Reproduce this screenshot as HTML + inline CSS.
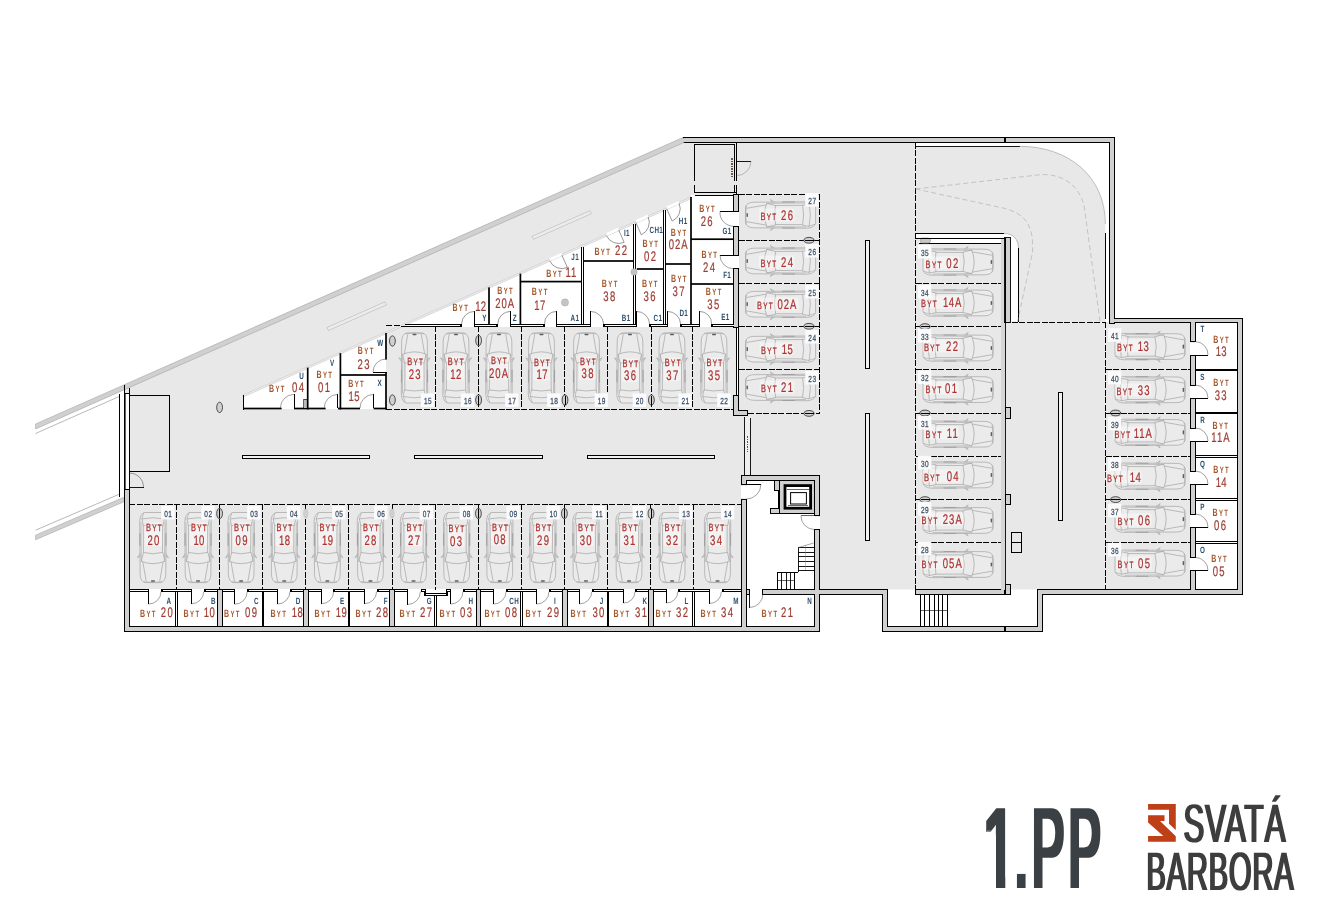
<!DOCTYPE html>
<html lang="cs"><head><meta charset="utf-8"><title>1.PP – Svatá Barbora</title>
<style>
html,body{margin:0;padding:0;background:#fff;}
body{width:1330px;height:920px;overflow:hidden;}
svg{display:block;}
text{font-family:"Liberation Sans",sans-serif;text-rendering:geometricPrecision;}
</style></head><body>
<svg width="1330" height="920" viewBox="0 0 1330 920">
<rect width="1330" height="920" fill="#ffffff"/>
<polygon points="124.4,384.68 683,137.5 1114.6,137.5 1114.6,318.4 1242.6,318.4 1242.6,589.6 819.6,589.6 819.6,631.4 124.4,631.4" fill="#e8e8e8" stroke="none" stroke-width="0.8"/>
<rect x="129.4" y="590.2" width="612" height="36.2" fill="#fff" stroke="none" stroke-width="1" shape-rendering="crispEdges"/>
<rect x="746.4" y="480.2" width="68.2" height="146.2" fill="#fff" stroke="none" stroke-width="1" shape-rendering="crispEdges"/>
<rect x="887.6" y="594" width="149.8" height="32.4" fill="#fff" stroke="none" stroke-width="1" shape-rendering="crispEdges"/>
<polygon points="243,395.24 691,197 691,195 733.4,195 733.4,327 397,327 386,331.96 386,409 243,409" fill="#fff" stroke="none" stroke-width="0.8"/>
<rect x="1195.4" y="322.4" width="42.2" height="266.6" fill="#fff" stroke="none" stroke-width="1" shape-rendering="crispEdges"/>
<path d="M915.6,142.5 H1109.6 V322 H1105.4 V224 C1105.4,176 1068,146.3 1019.6,146.3 H915.6 Z" fill="#fff" stroke="none" stroke-width="0.8"/>
<path d="M915.6,233.3 H1004.3 C1013,233.3 1018.5,239 1018.5,248.5 V321.3 H1010.9 V238 H915.6 Z" fill="#fff" stroke="none" stroke-width="0.8"/>
<polygon points="35.6,423.97 124.4,384.68 124.4,389.68 35.6,428.97" fill="#d0d0d0" stroke="#9a9a9a" stroke-width="0.5"/>
<line x1="35.6" y1="433.47" x2="119.6" y2="396.3" stroke="#888" stroke-width="0.6"/>
<polygon points="35.6,535.18 124.4,497 124.4,501.6 35.6,539.78" fill="#d0d0d0" stroke="#9a9a9a" stroke-width="0.5"/>
<line x1="35.6" y1="530.18" x2="119.6" y2="494.06" stroke="#888" stroke-width="0.6"/>
<polygon points="124.4,384.68 683,137.5 684,142.5 124.4,389.68" fill="#d0d0d0" stroke="#9a9a9a" stroke-width="0.5"/>
<polygon points="243,395.24 691,197 691,198.8 243,397.04" fill="#f2f2f2" stroke="#aaa" stroke-width="0.4"/>
<rect x="119.6" y="392.8" width="9.8" height="96.8" fill="#fff" stroke="none" stroke-width="1" shape-rendering="crispEdges"/>
<line x1="119.6" y1="393.8" x2="119.6" y2="497" stroke="#000000" stroke-width="1" shape-rendering="crispEdges"/>
<line x1="124.6" y1="384.59" x2="124.6" y2="489.6" stroke="#000000" stroke-width="1" shape-rendering="crispEdges"/>
<line x1="125.8" y1="393" x2="125.8" y2="489.6" stroke="#000000" stroke-width="0.6" shape-rendering="crispEdges"/>
<line x1="129.2" y1="387.56" x2="129.2" y2="489.6" stroke="#000000" stroke-width="1" shape-rendering="crispEdges"/>
<line x1="125" y1="393.5" x2="129.6" y2="393.5" stroke="#000000" stroke-width="1" shape-rendering="crispEdges"/>
<rect x="124" y="489" width="6" height="143" fill="#000"/>
<rect x="124" y="626" width="696" height="6" fill="#000"/>
<rect x="814" y="589" width="6" height="43" fill="#000"/>
<rect x="814" y="589" width="74" height="6" fill="#000"/>
<rect x="882" y="589" width="6" height="43" fill="#000"/>
<rect x="882" y="626" width="161" height="6" fill="#000"/>
<rect x="1037" y="589" width="6" height="43" fill="#000"/>
<rect x="1037" y="589" width="206" height="6" fill="#000"/>
<rect x="1237" y="318" width="6" height="277" fill="#000"/>
<rect x="1109" y="318" width="134" height="5" fill="#000"/>
<rect x="1109" y="137" width="6" height="187" fill="#000"/>
<rect x="683" y="137" width="432" height="6" fill="#000"/>
<rect x="217" y="589" width="6" height="38" fill="#000"/>
<rect x="303" y="589" width="6" height="38" fill="#000"/>
<rect x="389" y="589" width="6" height="38" fill="#000"/>
<rect x="476" y="589" width="5" height="38" fill="#000"/>
<rect x="562" y="589" width="6" height="38" fill="#000"/>
<rect x="648" y="589" width="6" height="38" fill="#000"/>
<rect x="741" y="475" width="79" height="6" fill="#000"/>
<rect x="741" y="475" width="6" height="10" fill="#000"/>
<rect x="741" y="499" width="6" height="133" fill="#000"/>
<rect x="814" y="475" width="6" height="41" fill="#000"/>
<rect x="814" y="529" width="6" height="103" fill="#000"/>
<rect x="762" y="589" width="58" height="6" fill="#000"/>
<rect x="746" y="589" width="4" height="6" fill="#000"/>
<rect x="778" y="480" width="37" height="34" fill="#000"/>
<rect x="774" y="480" width="6" height="11" fill="#000"/>
<rect x="770" y="508" width="10" height="6" fill="#000"/>
<rect x="733" y="194" width="6" height="18" fill="#000"/>
<rect x="733" y="226" width="6" height="30" fill="#000"/>
<rect x="733" y="268" width="6" height="60" fill="#000"/>
<rect x="1190" y="318" width="6" height="24" fill="#000"/>
<rect x="1190" y="355" width="6" height="31" fill="#000"/>
<rect x="1190" y="398" width="6" height="31" fill="#000"/>
<rect x="1190" y="441" width="6" height="31" fill="#000"/>
<rect x="1190" y="484" width="6" height="31" fill="#000"/>
<rect x="1190" y="527" width="6" height="31" fill="#000"/>
<rect x="1190" y="570" width="6" height="25" fill="#000"/>
<rect x="915" y="589" width="96" height="6" fill="#000"/>
<rect x="1005" y="407" width="6" height="12" fill="#000"/>
<rect x="1005" y="494" width="6" height="11" fill="#000"/>
<rect x="1005" y="584" width="6" height="11" fill="#000"/>
<rect x="125" y="490" width="4" height="141" fill="#d0d0d0"/>
<rect x="125" y="627" width="694" height="4" fill="#d0d0d0"/>
<rect x="815" y="590" width="4" height="41" fill="#d0d0d0"/>
<rect x="815" y="590" width="72" height="4" fill="#d0d0d0"/>
<rect x="883" y="590" width="4" height="41" fill="#d0d0d0"/>
<rect x="883" y="627" width="159" height="4" fill="#d0d0d0"/>
<rect x="1038" y="590" width="4" height="41" fill="#d0d0d0"/>
<rect x="1038" y="590" width="204" height="4" fill="#d0d0d0"/>
<rect x="1238" y="319" width="4" height="275" fill="#d0d0d0"/>
<rect x="1110" y="319" width="132" height="3" fill="#d0d0d0"/>
<rect x="1110" y="138" width="4" height="185" fill="#d0d0d0"/>
<rect x="684" y="138" width="430" height="4" fill="#d0d0d0"/>
<rect x="218" y="590" width="4" height="36" fill="#d0d0d0"/>
<rect x="304" y="590" width="4" height="36" fill="#d0d0d0"/>
<rect x="390" y="590" width="4" height="36" fill="#d0d0d0"/>
<rect x="477" y="590" width="3" height="36" fill="#d0d0d0"/>
<rect x="563" y="590" width="4" height="36" fill="#d0d0d0"/>
<rect x="649" y="590" width="4" height="36" fill="#d0d0d0"/>
<rect x="742" y="476" width="77" height="4" fill="#d0d0d0"/>
<rect x="742" y="476" width="4" height="8" fill="#d0d0d0"/>
<rect x="742" y="500" width="4" height="131" fill="#d0d0d0"/>
<rect x="815" y="476" width="4" height="39" fill="#d0d0d0"/>
<rect x="815" y="530" width="4" height="101" fill="#d0d0d0"/>
<rect x="763" y="590" width="56" height="4" fill="#d0d0d0"/>
<rect x="747" y="590" width="2" height="4" fill="#d0d0d0"/>
<rect x="779" y="481" width="35" height="32" fill="#d0d0d0"/>
<rect x="775" y="481" width="4" height="9" fill="#d0d0d0"/>
<rect x="771" y="509" width="8" height="4" fill="#d0d0d0"/>
<rect x="734" y="195" width="4" height="16" fill="#d0d0d0"/>
<rect x="734" y="227" width="4" height="28" fill="#d0d0d0"/>
<rect x="734" y="269" width="4" height="58" fill="#d0d0d0"/>
<rect x="1191" y="319" width="4" height="22" fill="#d0d0d0"/>
<rect x="1191" y="356" width="4" height="29" fill="#d0d0d0"/>
<rect x="1191" y="399" width="4" height="29" fill="#d0d0d0"/>
<rect x="1191" y="442" width="4" height="29" fill="#d0d0d0"/>
<rect x="1191" y="485" width="4" height="29" fill="#d0d0d0"/>
<rect x="1191" y="528" width="4" height="29" fill="#d0d0d0"/>
<rect x="1191" y="571" width="4" height="23" fill="#d0d0d0"/>
<rect x="916" y="590" width="94" height="4" fill="#d0d0d0"/>
<rect x="1006" y="408" width="4" height="10" fill="#d0d0d0"/>
<rect x="1006" y="495" width="4" height="9" fill="#d0d0d0"/>
<rect x="1006" y="585" width="4" height="9" fill="#d0d0d0"/>
<rect x="1004" y="137" width="2" height="6" fill="#000"/>
<polygon points="682,138.4 684.6,138 684.6,142 682,143.4" fill="#d0d0d0"/>
<rect x="1004" y="626" width="2" height="6" fill="#000"/>
<rect x="1004" y="584" width="2" height="11" fill="#000"/>
<rect x="148" y="589" width="14" height="3" fill="#fff" stroke="none" stroke-width="1" shape-rendering="crispEdges"/>
<rect x="191" y="589" width="14" height="3" fill="#fff" stroke="none" stroke-width="1" shape-rendering="crispEdges"/>
<rect x="234" y="589" width="14" height="3" fill="#fff" stroke="none" stroke-width="1" shape-rendering="crispEdges"/>
<rect x="277" y="589" width="14" height="3" fill="#fff" stroke="none" stroke-width="1" shape-rendering="crispEdges"/>
<rect x="321" y="589" width="13" height="3" fill="#fff" stroke="none" stroke-width="1" shape-rendering="crispEdges"/>
<rect x="364" y="589" width="14" height="3" fill="#fff" stroke="none" stroke-width="1" shape-rendering="crispEdges"/>
<rect x="407" y="589" width="15" height="3" fill="#fff" stroke="none" stroke-width="1" shape-rendering="crispEdges"/>
<rect x="450" y="589" width="14" height="3" fill="#fff" stroke="none" stroke-width="1" shape-rendering="crispEdges"/>
<rect x="493" y="589" width="14" height="3" fill="#fff" stroke="none" stroke-width="1" shape-rendering="crispEdges"/>
<rect x="536" y="589" width="14" height="3" fill="#fff" stroke="none" stroke-width="1" shape-rendering="crispEdges"/>
<rect x="579" y="589" width="14" height="3" fill="#fff" stroke="none" stroke-width="1" shape-rendering="crispEdges"/>
<rect x="623" y="589" width="13" height="3" fill="#fff" stroke="none" stroke-width="1" shape-rendering="crispEdges"/>
<rect x="666" y="589" width="13" height="3" fill="#fff" stroke="none" stroke-width="1" shape-rendering="crispEdges"/>
<rect x="709" y="589" width="14" height="3" fill="#fff" stroke="none" stroke-width="1" shape-rendering="crispEdges"/>
<rect x="129" y="589" width="20" height="3" fill="#000"/>
<rect x="130" y="590" width="18" height="1" fill="#fff"/>
<rect x="161" y="589" width="31" height="3" fill="#000"/>
<rect x="163" y="590" width="28" height="1" fill="#fff"/>
<rect x="204" y="589" width="14" height="3" fill="#000"/>
<rect x="206" y="590" width="11" height="1" fill="#fff"/>
<rect x="222" y="589" width="13" height="3" fill="#000"/>
<rect x="223" y="590" width="11" height="1" fill="#fff"/>
<rect x="247" y="589" width="31" height="3" fill="#000"/>
<rect x="249" y="590" width="28" height="1" fill="#fff"/>
<rect x="290" y="589" width="14" height="3" fill="#000"/>
<rect x="292" y="590" width="11" height="1" fill="#fff"/>
<rect x="308" y="589" width="14" height="3" fill="#000"/>
<rect x="309" y="590" width="12" height="1" fill="#fff"/>
<rect x="333" y="589" width="32" height="3" fill="#000"/>
<rect x="335" y="590" width="29" height="1" fill="#fff"/>
<rect x="377" y="589" width="13" height="3" fill="#000"/>
<rect x="379" y="590" width="10" height="1" fill="#fff"/>
<rect x="394" y="589" width="14" height="3" fill="#000"/>
<rect x="395" y="590" width="12" height="1" fill="#fff"/>
<rect x="421" y="589" width="30" height="3" fill="#000"/>
<rect x="423" y="590" width="27" height="1" fill="#fff"/>
<rect x="463" y="589" width="14" height="3" fill="#000"/>
<rect x="465" y="590" width="11" height="1" fill="#fff"/>
<rect x="480" y="589" width="14" height="3" fill="#000"/>
<rect x="481" y="590" width="12" height="1" fill="#fff"/>
<rect x="506" y="589" width="31" height="3" fill="#000"/>
<rect x="508" y="590" width="28" height="1" fill="#fff"/>
<rect x="549" y="589" width="14" height="3" fill="#000"/>
<rect x="551" y="590" width="11" height="1" fill="#fff"/>
<rect x="567" y="589" width="13" height="3" fill="#000"/>
<rect x="568" y="590" width="11" height="1" fill="#fff"/>
<rect x="592" y="589" width="32" height="3" fill="#000"/>
<rect x="594" y="590" width="29" height="1" fill="#fff"/>
<rect x="635" y="589" width="14" height="3" fill="#000"/>
<rect x="637" y="590" width="11" height="1" fill="#fff"/>
<rect x="653" y="589" width="14" height="3" fill="#000"/>
<rect x="654" y="590" width="12" height="1" fill="#fff"/>
<rect x="678" y="589" width="32" height="3" fill="#000"/>
<rect x="680" y="590" width="29" height="1" fill="#fff"/>
<rect x="722" y="589" width="20" height="3" fill="#000"/>
<rect x="724" y="590" width="17" height="1" fill="#fff"/>
<line x1="148.5" y1="591.6" x2="148.5" y2="604.1" stroke="#000000" stroke-width="1" shape-rendering="crispEdges"/>
<path d="M148.5,604.1 A12.5,12.5 0 0 0 161,591.6" fill="none" stroke="#444" stroke-width="0.5"/>
<line x1="191.5" y1="591.6" x2="191.5" y2="603.8" stroke="#000000" stroke-width="1" shape-rendering="crispEdges"/>
<path d="M191.5,603.8 A12.2,12.2 0 0 0 203.7,591.6" fill="none" stroke="#444" stroke-width="0.5"/>
<line x1="234.5" y1="591.6" x2="234.5" y2="604.3" stroke="#000000" stroke-width="1" shape-rendering="crispEdges"/>
<path d="M234.5,604.3 A12.7,12.7 0 0 0 247.2,591.6" fill="none" stroke="#444" stroke-width="0.5"/>
<line x1="277.5" y1="591.6" x2="277.5" y2="604" stroke="#000000" stroke-width="1" shape-rendering="crispEdges"/>
<path d="M277.5,604 A12.4,12.4 0 0 0 289.9,591.6" fill="none" stroke="#444" stroke-width="0.5"/>
<line x1="321.5" y1="591.6" x2="321.5" y2="603.7" stroke="#000000" stroke-width="1" shape-rendering="crispEdges"/>
<path d="M321.5,603.7 A12.1,12.1 0 0 0 333.6,591.6" fill="none" stroke="#444" stroke-width="0.5"/>
<line x1="364.5" y1="591.6" x2="364.5" y2="603.7" stroke="#000000" stroke-width="1" shape-rendering="crispEdges"/>
<path d="M364.5,603.7 A12.1,12.1 0 0 0 376.6,591.6" fill="none" stroke="#444" stroke-width="0.5"/>
<line x1="407.5" y1="591.6" x2="407.5" y2="604.5" stroke="#000000" stroke-width="1" shape-rendering="crispEdges"/>
<path d="M407.5,604.5 A12.9,12.9 0 0 0 420.4,591.6" fill="none" stroke="#444" stroke-width="0.5"/>
<line x1="450.5" y1="591.6" x2="450.5" y2="604.1" stroke="#000000" stroke-width="1" shape-rendering="crispEdges"/>
<path d="M450.5,604.1 A12.5,12.5 0 0 0 463,591.6" fill="none" stroke="#444" stroke-width="0.5"/>
<line x1="493.5" y1="591.6" x2="493.5" y2="604.1" stroke="#000000" stroke-width="1" shape-rendering="crispEdges"/>
<path d="M493.5,604.1 A12.5,12.5 0 0 0 506,591.6" fill="none" stroke="#444" stroke-width="0.5"/>
<line x1="536.5" y1="591.6" x2="536.5" y2="604.1" stroke="#000000" stroke-width="1" shape-rendering="crispEdges"/>
<path d="M536.5,604.1 A12.5,12.5 0 0 0 549,591.6" fill="none" stroke="#444" stroke-width="0.5"/>
<line x1="579.5" y1="591.6" x2="579.5" y2="603.9" stroke="#000000" stroke-width="1" shape-rendering="crispEdges"/>
<path d="M579.5,603.9 A12.3,12.3 0 0 0 591.8,591.6" fill="none" stroke="#444" stroke-width="0.5"/>
<line x1="623.5" y1="591.6" x2="623.5" y2="603.1" stroke="#000000" stroke-width="1" shape-rendering="crispEdges"/>
<path d="M623.5,603.1 A11.5,11.5 0 0 0 635,591.6" fill="none" stroke="#444" stroke-width="0.5"/>
<line x1="666.5" y1="591.6" x2="666.5" y2="603" stroke="#000000" stroke-width="1" shape-rendering="crispEdges"/>
<path d="M666.5,603 A11.4,11.4 0 0 0 677.9,591.6" fill="none" stroke="#444" stroke-width="0.5"/>
<line x1="709.5" y1="591.6" x2="709.5" y2="603.5" stroke="#000000" stroke-width="1" shape-rendering="crispEdges"/>
<path d="M709.5,603.5 A11.9,11.9 0 0 0 721.4,591.6" fill="none" stroke="#444" stroke-width="0.5"/>
<rect x="175" y="591" width="1" height="36" fill="#000"/>
<rect x="177" y="591" width="1" height="36" fill="#000"/>
<rect x="434" y="591" width="1" height="36" fill="#000"/>
<rect x="436" y="591" width="1" height="36" fill="#000"/>
<rect x="520" y="591" width="1" height="36" fill="#000"/>
<rect x="522" y="591" width="1" height="36" fill="#000"/>
<rect x="692" y="591" width="1" height="36" fill="#000"/>
<rect x="694" y="591" width="1" height="36" fill="#000"/>
<rect x="262" y="591" width="2" height="36" fill="#000"/>
<rect x="348" y="591" width="2" height="36" fill="#000"/>
<rect x="607" y="591" width="2" height="36" fill="#000"/>
<rect x="425" y="588.6" width="22" height="4.4" fill="#fff" stroke="none" stroke-width="1" shape-rendering="crispEdges"/>
<rect x="421" y="589" width="5" height="3" fill="#000"/>
<rect x="446" y="589" width="5" height="3" fill="#000"/>
<rect x="422" y="590" width="3" height="1" fill="#fff"/>
<rect x="447" y="590" width="3" height="1" fill="#fff"/>
<rect x="424" y="591" width="2" height="5" fill="#000"/>
<rect x="446" y="591" width="2" height="5" fill="#000"/>
<rect x="424" y="593" width="24" height="3" fill="#000"/>
<rect x="426" y="594" width="20" height="1" fill="#fff"/>
<rect x="741" y="485.5" width="6" height="12.7" fill="#fff" stroke="none" stroke-width="1" shape-rendering="crispEdges"/>
<rect x="814" y="516.8" width="6" height="12" fill="#fff" stroke="none" stroke-width="1" shape-rendering="crispEdges"/>
<rect x="783.6" y="484.2" width="28.4" height="25.4" fill="#000"/>
<rect x="786.4" y="487" width="22.8" height="19.8" fill="#fff"/>
<rect x="790.6" y="492.6" width="15.8" height="11.4" fill="#fff" stroke="#000" stroke-width="1"/>
<line x1="787" y1="489.6" x2="809" y2="489.6" stroke="#000000" stroke-width="0.6" shape-rendering="crispEdges"/>
<line x1="788" y1="505.6" x2="808" y2="505.6" stroke="#000000" stroke-width="0.6" shape-rendering="crispEdges"/>
<rect x="779" y="480" width="1" height="34" fill="#000"/>
<line x1="746.4" y1="484.5" x2="760.9" y2="484.5" stroke="#000000" stroke-width="1" shape-rendering="crispEdges"/>
<path d="M760.9,484.5 A14.5,14.5 0 0 1 746.4,499" fill="none" stroke="#444" stroke-width="0.5"/>
<line x1="814.6" y1="515.8" x2="800.9" y2="515.8" stroke="#000000" stroke-width="0.6" shape-rendering="crispEdges"/>
<path d="M800.9,515.8 A13.7,13.7 0 0 0 814.6,529.5" fill="none" stroke="#444" stroke-width="0.5"/>
<line x1="749.4" y1="594" x2="749.4" y2="607.5" stroke="#000000" stroke-width="0.9" shape-rendering="crispEdges"/>
<path d="M749.4,607.5 A13.5,13.5 0 0 0 762.9,594" fill="none" stroke="#444" stroke-width="0.5"/>
<line x1="798.2" y1="547.6" x2="813.6" y2="547.6" stroke="#000000" stroke-width="0.9" shape-rendering="crispEdges"/>
<line x1="798.2" y1="552.2" x2="813.6" y2="552.2" stroke="#000000" stroke-width="0.9" shape-rendering="crispEdges"/>
<line x1="798.2" y1="556.8" x2="813.6" y2="556.8" stroke="#000000" stroke-width="0.9" shape-rendering="crispEdges"/>
<line x1="798.2" y1="561.4" x2="813.6" y2="561.4" stroke="#000000" stroke-width="0.9" shape-rendering="crispEdges"/>
<line x1="798.2" y1="566" x2="813.6" y2="566" stroke="#000000" stroke-width="0.9" shape-rendering="crispEdges"/>
<line x1="798.2" y1="570.6" x2="813.6" y2="570.6" stroke="#000000" stroke-width="0.9" shape-rendering="crispEdges"/>
<line x1="798.2" y1="547.6" x2="798.2" y2="572" stroke="#000000" stroke-width="0.9" shape-rendering="crispEdges"/>
<line x1="798.2" y1="572" x2="795.2" y2="572" stroke="#000000" stroke-width="0.9" shape-rendering="crispEdges"/>
<line x1="798.2" y1="547.6" x2="813.6" y2="543" stroke="#555" stroke-width="0.5"/>
<line x1="805.6" y1="545" x2="805.6" y2="570" stroke="#777" stroke-width="0.4" shape-rendering="crispEdges"/>
<rect x="777.2" y="572" width="17.4" height="17.2" fill="#fff" stroke="#000000" stroke-width="1" shape-rendering="crispEdges"/>
<line x1="781.6" y1="572" x2="781.6" y2="589.2" stroke="#000000" stroke-width="0.9" shape-rendering="crispEdges"/>
<line x1="786" y1="572" x2="786" y2="589.2" stroke="#000000" stroke-width="0.9" shape-rendering="crispEdges"/>
<line x1="790.4" y1="572" x2="790.4" y2="589.2" stroke="#000000" stroke-width="0.9" shape-rendering="crispEdges"/>
<line x1="777.2" y1="580.6" x2="794.6" y2="580.6" stroke="#000000" stroke-width="0.6" shape-rendering="crispEdges"/>
<line x1="794.6" y1="572" x2="798.2" y2="572" stroke="#000000" stroke-width="0.9" shape-rendering="crispEdges"/>
<line x1="920.4" y1="594" x2="920.4" y2="626.4" stroke="#000000" stroke-width="1" shape-rendering="crispEdges"/>
<line x1="924.4" y1="594" x2="924.4" y2="626.4" stroke="#000000" stroke-width="1" shape-rendering="crispEdges"/>
<line x1="929.4" y1="594" x2="929.4" y2="626.4" stroke="#000000" stroke-width="1" shape-rendering="crispEdges"/>
<line x1="934" y1="594" x2="934" y2="626.4" stroke="#000000" stroke-width="1" shape-rendering="crispEdges"/>
<line x1="938.6" y1="594" x2="938.6" y2="626.4" stroke="#000000" stroke-width="1" shape-rendering="crispEdges"/>
<line x1="942.6" y1="594" x2="942.6" y2="626.4" stroke="#000000" stroke-width="1" shape-rendering="crispEdges"/>
<line x1="947" y1="594" x2="947" y2="626.4" stroke="#000000" stroke-width="1" shape-rendering="crispEdges"/>
<line x1="920.4" y1="610" x2="947" y2="610" stroke="#000000" stroke-width="0.6" shape-rendering="crispEdges"/>
<line x1="243" y1="395.24" x2="243" y2="409.6" stroke="#000000" stroke-width="1" shape-rendering="crispEdges"/>
<rect x="243" y="407.65" width="38.6" height="1.7" fill="#000"/>
<rect x="294" y="407.65" width="31.6" height="1.7" fill="#000"/>
<rect x="338" y="407.65" width="22" height="1.7" fill="#000"/>
<rect x="373.6" y="407.65" width="13.2" height="1.7" fill="#000"/>
<line x1="294" y1="408" x2="294" y2="394.4" stroke="#000000" stroke-width="1" shape-rendering="crispEdges"/>
<path d="M294,394.4 A13.6,13.6 0 0 0 280.4,408" fill="none" stroke="#444" stroke-width="0.5"/>
<rect x="303.8" y="399" width="3.6" height="9" fill="#bbb" stroke="#000000" stroke-width="0.6" shape-rendering="crispEdges"/>
<rect x="306.85" y="367.61" width="1.7" height="41.89" fill="#000"/>
<line x1="337.8" y1="408" x2="337.8" y2="394.4" stroke="#000000" stroke-width="1" shape-rendering="crispEdges"/>
<path d="M337.8,394.4 A13.6,13.6 0 0 0 324.2,408" fill="none" stroke="#444" stroke-width="0.5"/>
<rect x="339.55" y="353.14" width="1.7" height="56.36" fill="#000"/>
<rect x="340.4" y="374.15" width="45.6" height="1.7" fill="#000"/>
<rect x="385.15" y="332.96" width="1.7" height="26.64" fill="#000"/>
<rect x="385.15" y="372" width="1.7" height="37.5" fill="#000"/>
<line x1="373" y1="372" x2="386.8" y2="372" stroke="#000000" stroke-width="1" shape-rendering="crispEdges"/>
<path d="M373,372 A13,13 0 0 1 386,359" fill="none" stroke="#444" stroke-width="0.5"/>
<line x1="373.6" y1="408" x2="373.6" y2="394.4" stroke="#000000" stroke-width="1" shape-rendering="crispEdges"/>
<path d="M373.6,394.4 A13.6,13.6 0 0 0 360,408" fill="none" stroke="#444" stroke-width="0.5"/>
<rect x="405" y="324" width="57" height="1" fill="#000"/>
<rect x="401" y="326" width="61" height="1" fill="#000"/>
<rect x="460" y="324" width="2" height="3" fill="#000"/>
<rect x="474" y="324" width="24" height="3" fill="#000"/>
<rect x="475" y="325" width="21" height="1" fill="#fff"/>
<rect x="510" y="324" width="35" height="3" fill="#000"/>
<rect x="511" y="325" width="32" height="1" fill="#fff"/>
<rect x="556" y="324" width="35" height="3" fill="#000"/>
<rect x="557" y="325" width="33" height="1" fill="#fff"/>
<rect x="603" y="324" width="34" height="3" fill="#000"/>
<rect x="605" y="325" width="31" height="1" fill="#fff"/>
<rect x="649" y="324" width="19" height="3" fill="#000"/>
<rect x="651" y="325" width="16" height="1" fill="#fff"/>
<rect x="680" y="324" width="20" height="3" fill="#000"/>
<rect x="682" y="325" width="17" height="1" fill="#fff"/>
<rect x="711" y="324" width="23" height="3" fill="#000"/>
<rect x="713" y="325" width="21" height="1" fill="#fff"/>
<rect x="474" y="311" width="1" height="14" fill="#000"/>
<path d="M474.5,311.4 A12.9,12.9 0 0 0 461.6,324" fill="none" stroke="#555" stroke-width="0.6"/>
<rect x="510" y="311" width="1" height="14" fill="#000"/>
<path d="M510.5,311.4 A12.7,12.7 0 0 0 497.8,324" fill="none" stroke="#555" stroke-width="0.6"/>
<rect x="556" y="311" width="1" height="14" fill="#000"/>
<path d="M556.5,311.4 A11.9,11.9 0 0 0 544.6,324" fill="none" stroke="#555" stroke-width="0.6"/>
<rect x="590" y="311" width="1" height="14" fill="#000"/>
<path d="M590.5,311.4 A13.1,13.1 0 0 1 603.6,324" fill="none" stroke="#555" stroke-width="0.6"/>
<rect x="636" y="311" width="1" height="14" fill="#000"/>
<path d="M636.5,311.4 A13.1,13.1 0 0 1 649.6,324" fill="none" stroke="#555" stroke-width="0.6"/>
<rect x="667" y="311" width="1" height="14" fill="#000"/>
<path d="M667.5,311.4 A13.1,13.1 0 0 1 680.6,324" fill="none" stroke="#555" stroke-width="0.6"/>
<rect x="699" y="311" width="1" height="14" fill="#000"/>
<path d="M699.5,311.4 A12.1,12.1 0 0 1 711.6,324" fill="none" stroke="#555" stroke-width="0.6"/>
<rect x="488.15" y="287.38" width="1.7" height="37.62" fill="#000"/>
<rect x="519.55" y="273.67" width="1.7" height="51.33" fill="#000"/>
<rect x="581" y="247" width="1" height="78" fill="#000"/>
<rect x="583" y="247" width="1" height="78" fill="#000"/>
<rect x="633" y="224" width="1" height="101" fill="#000"/>
<rect x="635" y="224" width="1" height="101" fill="#000"/>
<rect x="663" y="210" width="1" height="115" fill="#000"/>
<rect x="665" y="210" width="1" height="115" fill="#000"/>
<rect x="690.15" y="197" width="1.7" height="128" fill="#000"/>
<rect x="520" y="280.75" width="61.4" height="1.7" fill="#000"/>
<rect x="584" y="260.15" width="50" height="1.7" fill="#000"/>
<rect x="636.8" y="268.15" width="26.6" height="1.7" fill="#000"/>
<rect x="665.8" y="263.15" width="25.2" height="1.7" fill="#000"/>
<rect x="691" y="238.35" width="42.4" height="1.7" fill="#000"/>
<rect x="691" y="283.15" width="42.4" height="1.7" fill="#000"/>
<rect x="695" y="195" width="39" height="1" fill="#000"/>
<circle cx="565" cy="302.4" r="3.6" fill="#c4c4c4" stroke="#aaa" stroke-width="0.5"/>
<circle cx="634" cy="272" r="3.2" fill="#c4c4c4" stroke="#aaa" stroke-width="0.5"/>
<polygon points="561.9,252.73 549.55,258.19 549.55,261.19 561.9,255.73" fill="#fff" stroke="none" stroke-width="0.8"/>
<line x1="561.9" y1="255.13" x2="567.36" y2="267.47" stroke="#555" stroke-width="0.6"/>
<path d="M567.36,267.47 A13.5,13.5 0 0 1 549.55,260.59" fill="none" stroke="#555" stroke-width="0.6"/>
<polygon points="618.7,227.59 606.35,233.06 606.35,236.06 618.7,230.59" fill="#fff" stroke="none" stroke-width="0.8"/>
<line x1="618.7" y1="229.99" x2="624.16" y2="242.34" stroke="#555" stroke-width="0.6"/>
<path d="M624.16,242.34 A13.5,13.5 0 0 1 606.35,235.46" fill="none" stroke="#555" stroke-width="0.6"/>
<polygon points="635.8,220.03 648.15,214.56 648.15,217.56 635.8,223.03" fill="#fff" stroke="none" stroke-width="0.8"/>
<line x1="635.8" y1="222.43" x2="641.26" y2="234.77" stroke="#555" stroke-width="0.6"/>
<path d="M641.26,234.77 A13.5,13.5 0 0 0 648.15,216.96" fill="none" stroke="#555" stroke-width="0.6"/>
<polygon points="666.7,206.35 679.05,200.89 679.05,203.89 666.7,209.35" fill="#fff" stroke="none" stroke-width="0.8"/>
<line x1="666.7" y1="208.75" x2="672.16" y2="221.1" stroke="#555" stroke-width="0.6"/>
<path d="M672.16,221.1 A13.5,13.5 0 0 0 679.05,203.29" fill="none" stroke="#555" stroke-width="0.6"/>
<rect x="733" y="212.3" width="6" height="13.5" fill="#fff" stroke="none" stroke-width="1" shape-rendering="crispEdges"/>
<line x1="720" y1="211.3" x2="733.4" y2="211.3" stroke="#000000" stroke-width="1" shape-rendering="crispEdges"/>
<path d="M720,211.3 A13.6,13.6 0 0 0 733.6,226.2" fill="none" stroke="#444" stroke-width="0.5"/>
<rect x="733" y="256" width="6" height="12.4" fill="#fff" stroke="none" stroke-width="1" shape-rendering="crispEdges"/>
<line x1="720" y1="255" x2="733.4" y2="255" stroke="#000000" stroke-width="1" shape-rendering="crispEdges"/>
<path d="M720,255 A13.6,13.6 0 0 0 733.6,268.8" fill="none" stroke="#444" stroke-width="0.5"/>
<rect x="736" y="328" width="1" height="67" fill="#000"/>
<rect x="737" y="328" width="1" height="67" fill="#fff"/>
<rect x="738" y="328" width="1" height="67" fill="#000"/>
<rect x="733" y="395" width="6" height="21" fill="#000"/>
<rect x="733" y="410" width="15" height="6" fill="#000"/>
<rect x="734" y="396" width="4" height="19" fill="#d0d0d0"/>
<rect x="734" y="411" width="13" height="4" fill="#d0d0d0"/>
<rect x="744" y="417" width="7" height="1" fill="#000"/>
<rect x="744.4" y="416.5" width="6.2" height="58.8" fill="#efefef" stroke="none" stroke-width="1" shape-rendering="crispEdges"/>
<line x1="744.4" y1="416.5" x2="744.4" y2="475.3" stroke="#000000" stroke-width="0.9" shape-rendering="crispEdges"/>
<line x1="750.6" y1="418" x2="750.6" y2="475.3" stroke="#000000" stroke-width="0.9" shape-rendering="crispEdges"/>
<line x1="747.6" y1="436" x2="747.6" y2="452" stroke="#333" stroke-width="0.8" stroke-dasharray="1.5 1" shape-rendering="crispEdges"/>
<rect x="694.3" y="144.3" width="40.3" height="48.5" fill="#e8e8e8" stroke="none" stroke-width="1" shape-rendering="crispEdges"/>
<rect x="694" y="144" width="41" height="1" fill="#000"/>
<rect x="694" y="192" width="43" height="1" fill="#000"/>
<rect x="694" y="144" width="1" height="37" fill="#000"/>
<rect x="694" y="185" width="1" height="8" fill="#000"/>
<rect x="734" y="144" width="1" height="37" fill="#000"/>
<rect x="734" y="185" width="1" height="8" fill="#000"/>
<rect x="736" y="143" width="1" height="38" fill="#000"/>
<rect x="736" y="185" width="1" height="10" fill="#000"/>
<line x1="736.6" y1="161.2" x2="751" y2="161.2" stroke="#000000" stroke-width="0.9" shape-rendering="crispEdges"/>
<path d="M751,161.2 A14.4,14.4 0 0 1 736.6,175.6" fill="none" stroke="#666" stroke-width="0.4"/>
<line x1="732.2" y1="158" x2="732.2" y2="178" stroke="#6b5a4a" stroke-width="1.6" stroke-dasharray="1.5 1" shape-rendering="crispEdges"/>
<rect x="129.4" y="395.6" width="40" height="75.8" fill="#e8e8e8" stroke="#000000" stroke-width="1" shape-rendering="crispEdges"/>
<line x1="129.4" y1="487" x2="143.6" y2="487" stroke="#000000" stroke-width="0.9" shape-rendering="crispEdges"/>
<path d="M143.6,487 A14,14 0 0 0 129.6,473" fill="none" stroke="#444" stroke-width="0.5"/>
<rect x="1190" y="342.6" width="6" height="12" fill="#fff" stroke="none" stroke-width="1" shape-rendering="crispEdges"/>
<line x1="1195.4" y1="355" x2="1208" y2="355" stroke="#000000" stroke-width="1" shape-rendering="crispEdges"/>
<path d="M1208,355 A13,13 0 0 0 1195.4,341.6" fill="none" stroke="#444" stroke-width="0.5"/>
<rect x="1190" y="386" width="6" height="11.6" fill="#fff" stroke="none" stroke-width="1" shape-rendering="crispEdges"/>
<line x1="1195.4" y1="398" x2="1208" y2="398" stroke="#000000" stroke-width="1" shape-rendering="crispEdges"/>
<path d="M1208,398 A13,13 0 0 0 1195.4,385" fill="none" stroke="#444" stroke-width="0.5"/>
<rect x="1190" y="429" width="6" height="11.6" fill="#fff" stroke="none" stroke-width="1" shape-rendering="crispEdges"/>
<line x1="1195.4" y1="441" x2="1208" y2="441" stroke="#000000" stroke-width="1" shape-rendering="crispEdges"/>
<path d="M1208,441 A13,13 0 0 0 1195.4,428" fill="none" stroke="#444" stroke-width="0.5"/>
<rect x="1190" y="472" width="6" height="12" fill="#fff" stroke="none" stroke-width="1" shape-rendering="crispEdges"/>
<line x1="1195.4" y1="484.4" x2="1208" y2="484.4" stroke="#000000" stroke-width="1" shape-rendering="crispEdges"/>
<path d="M1208,484.4 A13,13 0 0 0 1195.4,471" fill="none" stroke="#444" stroke-width="0.5"/>
<rect x="1190" y="515" width="6" height="12.2" fill="#fff" stroke="none" stroke-width="1" shape-rendering="crispEdges"/>
<line x1="1195.4" y1="527.6" x2="1208" y2="527.6" stroke="#000000" stroke-width="1" shape-rendering="crispEdges"/>
<path d="M1208,527.6 A13,13 0 0 0 1195.4,514" fill="none" stroke="#444" stroke-width="0.5"/>
<rect x="1190" y="558.4" width="6" height="11.6" fill="#fff" stroke="none" stroke-width="1" shape-rendering="crispEdges"/>
<line x1="1195.4" y1="570.4" x2="1208" y2="570.4" stroke="#000000" stroke-width="1" shape-rendering="crispEdges"/>
<path d="M1208,570.4 A13,13 0 0 0 1195.4,557.4" fill="none" stroke="#444" stroke-width="0.5"/>
<rect x="1195" y="369" width="43" height="2" fill="#000"/>
<rect x="1195" y="412" width="43" height="2" fill="#000"/>
<rect x="1195" y="455" width="43" height="1" fill="#000"/>
<rect x="1195" y="457" width="43" height="1" fill="#000"/>
<rect x="1195" y="498" width="43" height="1" fill="#000"/>
<rect x="1195" y="500" width="43" height="1" fill="#000"/>
<rect x="1195" y="541" width="43" height="1" fill="#000"/>
<rect x="1195" y="543" width="43" height="1" fill="#000"/>
<line x1="129.4" y1="504.4" x2="741.4" y2="504.4" stroke="#000000" stroke-width="1" stroke-dasharray="6 1.5" shape-rendering="crispEdges"/>
<line x1="176.5" y1="504.4" x2="176.5" y2="589.5" stroke="#000000" stroke-width="1" stroke-dasharray="6 1.5" shape-rendering="crispEdges"/>
<line x1="219.6" y1="504.4" x2="219.6" y2="589.5" stroke="#000000" stroke-width="1" stroke-dasharray="6 1.5" shape-rendering="crispEdges"/>
<line x1="262.7" y1="504.4" x2="262.7" y2="589.5" stroke="#000000" stroke-width="1" stroke-dasharray="6 1.5" shape-rendering="crispEdges"/>
<line x1="305.8" y1="504.4" x2="305.8" y2="589.5" stroke="#000000" stroke-width="1" stroke-dasharray="6 1.5" shape-rendering="crispEdges"/>
<line x1="348.9" y1="504.4" x2="348.9" y2="589.5" stroke="#000000" stroke-width="1" stroke-dasharray="6 1.5" shape-rendering="crispEdges"/>
<line x1="392" y1="504.4" x2="392" y2="589.5" stroke="#000000" stroke-width="1" stroke-dasharray="6 1.5" shape-rendering="crispEdges"/>
<line x1="435.1" y1="504.4" x2="435.1" y2="589.5" stroke="#000000" stroke-width="1" stroke-dasharray="6 1.5" shape-rendering="crispEdges"/>
<line x1="478.2" y1="504.4" x2="478.2" y2="589.5" stroke="#000000" stroke-width="1" stroke-dasharray="6 1.5" shape-rendering="crispEdges"/>
<line x1="521.3" y1="504.4" x2="521.3" y2="589.5" stroke="#000000" stroke-width="1" stroke-dasharray="6 1.5" shape-rendering="crispEdges"/>
<line x1="564.4" y1="504.4" x2="564.4" y2="589.5" stroke="#000000" stroke-width="1" stroke-dasharray="6 1.5" shape-rendering="crispEdges"/>
<line x1="607.5" y1="504.4" x2="607.5" y2="589.5" stroke="#000000" stroke-width="1" stroke-dasharray="6 1.5" shape-rendering="crispEdges"/>
<line x1="650.6" y1="504.4" x2="650.6" y2="589.5" stroke="#000000" stroke-width="1" stroke-dasharray="6 1.5" shape-rendering="crispEdges"/>
<line x1="693.7" y1="504.4" x2="693.7" y2="589.5" stroke="#000000" stroke-width="1" stroke-dasharray="6 1.5" shape-rendering="crispEdges"/>
<g transform="translate(152.95,547.5) rotate(180) scale(0.97,1)" fill="none" stroke="#ababab" stroke-width="0.8" stroke-linejoin="round" stroke-linecap="round"><path d="M-8.5,-35 Q-12.8,-34 -13.2,-27 L-13.6,26 Q-13.4,33.6 -8.5,35 L8.5,35 Q13.4,33.6 13.6,26 L13.2,-27 Q12.8,-34 8.5,-35 Z" fill="#ebebeb"/><path d="M-7,-33.4 L-10.4,-14.6 M7,-33.4 L10.4,-14.6"/><path d="M-12,-13.8 Q0,-18.6 12,-13.8 L9.8,-5 Q0,-7.6 -9.8,-5 Z"/><path d="M-9.8,-5 L-10,22 M9.8,-5 L10,22"/><path d="M-12,-13.8 L-12.4,25 M12,-13.8 L12.4,25" stroke-width="0.7"/><path d="M-10,22 Q0,24 10,22 L11.4,28.6 Q0,31 -11.4,28.6 Z"/><path d="M-11.4,28.6 L-9.6,34.4 M11.4,28.6 L9.6,34.4" stroke-width="0.7"/><path d="M-13.2,-8.6 L-16,-10.2 L-13.4,-6.4 M13.2,-8.6 L16,-10.2 L13.4,-6.4"/><path d="M-13.4,2 L-13.4,14 M13.4,2 L13.4,14" stroke="#a0a0a0" stroke-width="1.1"/><path d="M-9.5,-34.2 Q0,-36 9.5,-34.2" stroke-width="0.7"/><path d="M-1.4,-33.4 h2.8" stroke="#5e5e5e" stroke-width="1.5"/></g>
<g transform="translate(198.05,547.5) rotate(180) scale(0.97,1)" fill="none" stroke="#ababab" stroke-width="0.8" stroke-linejoin="round" stroke-linecap="round"><path d="M-8.5,-35 Q-12.8,-34 -13.2,-27 L-13.6,26 Q-13.4,33.6 -8.5,35 L8.5,35 Q13.4,33.6 13.6,26 L13.2,-27 Q12.8,-34 8.5,-35 Z" fill="#ebebeb"/><path d="M-7,-33.4 L-10.4,-14.6 M7,-33.4 L10.4,-14.6"/><path d="M-12,-13.8 Q0,-18.6 12,-13.8 L9.8,-5 Q0,-7.6 -9.8,-5 Z"/><path d="M-9.8,-5 L-10,22 M9.8,-5 L10,22"/><path d="M-12,-13.8 L-12.4,25 M12,-13.8 L12.4,25" stroke-width="0.7"/><path d="M-10,22 Q0,24 10,22 L11.4,28.6 Q0,31 -11.4,28.6 Z"/><path d="M-11.4,28.6 L-9.6,34.4 M11.4,28.6 L9.6,34.4" stroke-width="0.7"/><path d="M-13.2,-8.6 L-16,-10.2 L-13.4,-6.4 M13.2,-8.6 L16,-10.2 L13.4,-6.4"/><path d="M-13.4,2 L-13.4,14 M13.4,2 L13.4,14" stroke="#a0a0a0" stroke-width="1.1"/><path d="M-9.5,-34.2 Q0,-36 9.5,-34.2" stroke-width="0.7"/><path d="M-1.4,-33.4 h2.8" stroke="#5e5e5e" stroke-width="1.5"/></g>
<g transform="translate(241.15,547.5) rotate(180) scale(0.97,1)" fill="none" stroke="#ababab" stroke-width="0.8" stroke-linejoin="round" stroke-linecap="round"><path d="M-8.5,-35 Q-12.8,-34 -13.2,-27 L-13.6,26 Q-13.4,33.6 -8.5,35 L8.5,35 Q13.4,33.6 13.6,26 L13.2,-27 Q12.8,-34 8.5,-35 Z" fill="#ebebeb"/><path d="M-7,-33.4 L-10.4,-14.6 M7,-33.4 L10.4,-14.6"/><path d="M-12,-13.8 Q0,-18.6 12,-13.8 L9.8,-5 Q0,-7.6 -9.8,-5 Z"/><path d="M-9.8,-5 L-10,22 M9.8,-5 L10,22"/><path d="M-12,-13.8 L-12.4,25 M12,-13.8 L12.4,25" stroke-width="0.7"/><path d="M-10,22 Q0,24 10,22 L11.4,28.6 Q0,31 -11.4,28.6 Z"/><path d="M-11.4,28.6 L-9.6,34.4 M11.4,28.6 L9.6,34.4" stroke-width="0.7"/><path d="M-13.2,-8.6 L-16,-10.2 L-13.4,-6.4 M13.2,-8.6 L16,-10.2 L13.4,-6.4"/><path d="M-13.4,2 L-13.4,14 M13.4,2 L13.4,14" stroke="#a0a0a0" stroke-width="1.1"/><path d="M-9.5,-34.2 Q0,-36 9.5,-34.2" stroke-width="0.7"/><path d="M-1.4,-33.4 h2.8" stroke="#5e5e5e" stroke-width="1.5"/></g>
<g transform="translate(284.25,547.5) rotate(180) scale(0.97,1)" fill="none" stroke="#ababab" stroke-width="0.8" stroke-linejoin="round" stroke-linecap="round"><path d="M-8.5,-35 Q-12.8,-34 -13.2,-27 L-13.6,26 Q-13.4,33.6 -8.5,35 L8.5,35 Q13.4,33.6 13.6,26 L13.2,-27 Q12.8,-34 8.5,-35 Z" fill="#ebebeb"/><path d="M-7,-33.4 L-10.4,-14.6 M7,-33.4 L10.4,-14.6"/><path d="M-12,-13.8 Q0,-18.6 12,-13.8 L9.8,-5 Q0,-7.6 -9.8,-5 Z"/><path d="M-9.8,-5 L-10,22 M9.8,-5 L10,22"/><path d="M-12,-13.8 L-12.4,25 M12,-13.8 L12.4,25" stroke-width="0.7"/><path d="M-10,22 Q0,24 10,22 L11.4,28.6 Q0,31 -11.4,28.6 Z"/><path d="M-11.4,28.6 L-9.6,34.4 M11.4,28.6 L9.6,34.4" stroke-width="0.7"/><path d="M-13.2,-8.6 L-16,-10.2 L-13.4,-6.4 M13.2,-8.6 L16,-10.2 L13.4,-6.4"/><path d="M-13.4,2 L-13.4,14 M13.4,2 L13.4,14" stroke="#a0a0a0" stroke-width="1.1"/><path d="M-9.5,-34.2 Q0,-36 9.5,-34.2" stroke-width="0.7"/><path d="M-1.4,-33.4 h2.8" stroke="#5e5e5e" stroke-width="1.5"/></g>
<g transform="translate(327.35,547.5) rotate(180) scale(0.97,1)" fill="none" stroke="#ababab" stroke-width="0.8" stroke-linejoin="round" stroke-linecap="round"><path d="M-8.5,-35 Q-12.8,-34 -13.2,-27 L-13.6,26 Q-13.4,33.6 -8.5,35 L8.5,35 Q13.4,33.6 13.6,26 L13.2,-27 Q12.8,-34 8.5,-35 Z" fill="#ebebeb"/><path d="M-7,-33.4 L-10.4,-14.6 M7,-33.4 L10.4,-14.6"/><path d="M-12,-13.8 Q0,-18.6 12,-13.8 L9.8,-5 Q0,-7.6 -9.8,-5 Z"/><path d="M-9.8,-5 L-10,22 M9.8,-5 L10,22"/><path d="M-12,-13.8 L-12.4,25 M12,-13.8 L12.4,25" stroke-width="0.7"/><path d="M-10,22 Q0,24 10,22 L11.4,28.6 Q0,31 -11.4,28.6 Z"/><path d="M-11.4,28.6 L-9.6,34.4 M11.4,28.6 L9.6,34.4" stroke-width="0.7"/><path d="M-13.2,-8.6 L-16,-10.2 L-13.4,-6.4 M13.2,-8.6 L16,-10.2 L13.4,-6.4"/><path d="M-13.4,2 L-13.4,14 M13.4,2 L13.4,14" stroke="#a0a0a0" stroke-width="1.1"/><path d="M-9.5,-34.2 Q0,-36 9.5,-34.2" stroke-width="0.7"/><path d="M-1.4,-33.4 h2.8" stroke="#5e5e5e" stroke-width="1.5"/></g>
<g transform="translate(370.45,547.5) rotate(180) scale(0.97,1)" fill="none" stroke="#ababab" stroke-width="0.8" stroke-linejoin="round" stroke-linecap="round"><path d="M-8.5,-35 Q-12.8,-34 -13.2,-27 L-13.6,26 Q-13.4,33.6 -8.5,35 L8.5,35 Q13.4,33.6 13.6,26 L13.2,-27 Q12.8,-34 8.5,-35 Z" fill="#ebebeb"/><path d="M-7,-33.4 L-10.4,-14.6 M7,-33.4 L10.4,-14.6"/><path d="M-12,-13.8 Q0,-18.6 12,-13.8 L9.8,-5 Q0,-7.6 -9.8,-5 Z"/><path d="M-9.8,-5 L-10,22 M9.8,-5 L10,22"/><path d="M-12,-13.8 L-12.4,25 M12,-13.8 L12.4,25" stroke-width="0.7"/><path d="M-10,22 Q0,24 10,22 L11.4,28.6 Q0,31 -11.4,28.6 Z"/><path d="M-11.4,28.6 L-9.6,34.4 M11.4,28.6 L9.6,34.4" stroke-width="0.7"/><path d="M-13.2,-8.6 L-16,-10.2 L-13.4,-6.4 M13.2,-8.6 L16,-10.2 L13.4,-6.4"/><path d="M-13.4,2 L-13.4,14 M13.4,2 L13.4,14" stroke="#a0a0a0" stroke-width="1.1"/><path d="M-9.5,-34.2 Q0,-36 9.5,-34.2" stroke-width="0.7"/><path d="M-1.4,-33.4 h2.8" stroke="#5e5e5e" stroke-width="1.5"/></g>
<g transform="translate(413.55,547.5) rotate(180) scale(0.97,1)" fill="none" stroke="#ababab" stroke-width="0.8" stroke-linejoin="round" stroke-linecap="round"><path d="M-8.5,-35 Q-12.8,-34 -13.2,-27 L-13.6,26 Q-13.4,33.6 -8.5,35 L8.5,35 Q13.4,33.6 13.6,26 L13.2,-27 Q12.8,-34 8.5,-35 Z" fill="#ebebeb"/><path d="M-7,-33.4 L-10.4,-14.6 M7,-33.4 L10.4,-14.6"/><path d="M-12,-13.8 Q0,-18.6 12,-13.8 L9.8,-5 Q0,-7.6 -9.8,-5 Z"/><path d="M-9.8,-5 L-10,22 M9.8,-5 L10,22"/><path d="M-12,-13.8 L-12.4,25 M12,-13.8 L12.4,25" stroke-width="0.7"/><path d="M-10,22 Q0,24 10,22 L11.4,28.6 Q0,31 -11.4,28.6 Z"/><path d="M-11.4,28.6 L-9.6,34.4 M11.4,28.6 L9.6,34.4" stroke-width="0.7"/><path d="M-13.2,-8.6 L-16,-10.2 L-13.4,-6.4 M13.2,-8.6 L16,-10.2 L13.4,-6.4"/><path d="M-13.4,2 L-13.4,14 M13.4,2 L13.4,14" stroke="#a0a0a0" stroke-width="1.1"/><path d="M-9.5,-34.2 Q0,-36 9.5,-34.2" stroke-width="0.7"/><path d="M-1.4,-33.4 h2.8" stroke="#5e5e5e" stroke-width="1.5"/></g>
<g transform="translate(456.65,547.5) rotate(180) scale(0.97,1)" fill="none" stroke="#ababab" stroke-width="0.8" stroke-linejoin="round" stroke-linecap="round"><path d="M-8.5,-35 Q-12.8,-34 -13.2,-27 L-13.6,26 Q-13.4,33.6 -8.5,35 L8.5,35 Q13.4,33.6 13.6,26 L13.2,-27 Q12.8,-34 8.5,-35 Z" fill="#ebebeb"/><path d="M-7,-33.4 L-10.4,-14.6 M7,-33.4 L10.4,-14.6"/><path d="M-12,-13.8 Q0,-18.6 12,-13.8 L9.8,-5 Q0,-7.6 -9.8,-5 Z"/><path d="M-9.8,-5 L-10,22 M9.8,-5 L10,22"/><path d="M-12,-13.8 L-12.4,25 M12,-13.8 L12.4,25" stroke-width="0.7"/><path d="M-10,22 Q0,24 10,22 L11.4,28.6 Q0,31 -11.4,28.6 Z"/><path d="M-11.4,28.6 L-9.6,34.4 M11.4,28.6 L9.6,34.4" stroke-width="0.7"/><path d="M-13.2,-8.6 L-16,-10.2 L-13.4,-6.4 M13.2,-8.6 L16,-10.2 L13.4,-6.4"/><path d="M-13.4,2 L-13.4,14 M13.4,2 L13.4,14" stroke="#a0a0a0" stroke-width="1.1"/><path d="M-9.5,-34.2 Q0,-36 9.5,-34.2" stroke-width="0.7"/><path d="M-1.4,-33.4 h2.8" stroke="#5e5e5e" stroke-width="1.5"/></g>
<g transform="translate(499.75,547.5) rotate(180) scale(0.97,1)" fill="none" stroke="#ababab" stroke-width="0.8" stroke-linejoin="round" stroke-linecap="round"><path d="M-8.5,-35 Q-12.8,-34 -13.2,-27 L-13.6,26 Q-13.4,33.6 -8.5,35 L8.5,35 Q13.4,33.6 13.6,26 L13.2,-27 Q12.8,-34 8.5,-35 Z" fill="#ebebeb"/><path d="M-7,-33.4 L-10.4,-14.6 M7,-33.4 L10.4,-14.6"/><path d="M-12,-13.8 Q0,-18.6 12,-13.8 L9.8,-5 Q0,-7.6 -9.8,-5 Z"/><path d="M-9.8,-5 L-10,22 M9.8,-5 L10,22"/><path d="M-12,-13.8 L-12.4,25 M12,-13.8 L12.4,25" stroke-width="0.7"/><path d="M-10,22 Q0,24 10,22 L11.4,28.6 Q0,31 -11.4,28.6 Z"/><path d="M-11.4,28.6 L-9.6,34.4 M11.4,28.6 L9.6,34.4" stroke-width="0.7"/><path d="M-13.2,-8.6 L-16,-10.2 L-13.4,-6.4 M13.2,-8.6 L16,-10.2 L13.4,-6.4"/><path d="M-13.4,2 L-13.4,14 M13.4,2 L13.4,14" stroke="#a0a0a0" stroke-width="1.1"/><path d="M-9.5,-34.2 Q0,-36 9.5,-34.2" stroke-width="0.7"/><path d="M-1.4,-33.4 h2.8" stroke="#5e5e5e" stroke-width="1.5"/></g>
<g transform="translate(542.85,547.5) rotate(180) scale(0.97,1)" fill="none" stroke="#ababab" stroke-width="0.8" stroke-linejoin="round" stroke-linecap="round"><path d="M-8.5,-35 Q-12.8,-34 -13.2,-27 L-13.6,26 Q-13.4,33.6 -8.5,35 L8.5,35 Q13.4,33.6 13.6,26 L13.2,-27 Q12.8,-34 8.5,-35 Z" fill="#ebebeb"/><path d="M-7,-33.4 L-10.4,-14.6 M7,-33.4 L10.4,-14.6"/><path d="M-12,-13.8 Q0,-18.6 12,-13.8 L9.8,-5 Q0,-7.6 -9.8,-5 Z"/><path d="M-9.8,-5 L-10,22 M9.8,-5 L10,22"/><path d="M-12,-13.8 L-12.4,25 M12,-13.8 L12.4,25" stroke-width="0.7"/><path d="M-10,22 Q0,24 10,22 L11.4,28.6 Q0,31 -11.4,28.6 Z"/><path d="M-11.4,28.6 L-9.6,34.4 M11.4,28.6 L9.6,34.4" stroke-width="0.7"/><path d="M-13.2,-8.6 L-16,-10.2 L-13.4,-6.4 M13.2,-8.6 L16,-10.2 L13.4,-6.4"/><path d="M-13.4,2 L-13.4,14 M13.4,2 L13.4,14" stroke="#a0a0a0" stroke-width="1.1"/><path d="M-9.5,-34.2 Q0,-36 9.5,-34.2" stroke-width="0.7"/><path d="M-1.4,-33.4 h2.8" stroke="#5e5e5e" stroke-width="1.5"/></g>
<g transform="translate(585.95,547.5) rotate(180) scale(0.97,1)" fill="none" stroke="#ababab" stroke-width="0.8" stroke-linejoin="round" stroke-linecap="round"><path d="M-8.5,-35 Q-12.8,-34 -13.2,-27 L-13.6,26 Q-13.4,33.6 -8.5,35 L8.5,35 Q13.4,33.6 13.6,26 L13.2,-27 Q12.8,-34 8.5,-35 Z" fill="#ebebeb"/><path d="M-7,-33.4 L-10.4,-14.6 M7,-33.4 L10.4,-14.6"/><path d="M-12,-13.8 Q0,-18.6 12,-13.8 L9.8,-5 Q0,-7.6 -9.8,-5 Z"/><path d="M-9.8,-5 L-10,22 M9.8,-5 L10,22"/><path d="M-12,-13.8 L-12.4,25 M12,-13.8 L12.4,25" stroke-width="0.7"/><path d="M-10,22 Q0,24 10,22 L11.4,28.6 Q0,31 -11.4,28.6 Z"/><path d="M-11.4,28.6 L-9.6,34.4 M11.4,28.6 L9.6,34.4" stroke-width="0.7"/><path d="M-13.2,-8.6 L-16,-10.2 L-13.4,-6.4 M13.2,-8.6 L16,-10.2 L13.4,-6.4"/><path d="M-13.4,2 L-13.4,14 M13.4,2 L13.4,14" stroke="#a0a0a0" stroke-width="1.1"/><path d="M-9.5,-34.2 Q0,-36 9.5,-34.2" stroke-width="0.7"/><path d="M-1.4,-33.4 h2.8" stroke="#5e5e5e" stroke-width="1.5"/></g>
<g transform="translate(629.05,547.5) rotate(180) scale(0.97,1)" fill="none" stroke="#ababab" stroke-width="0.8" stroke-linejoin="round" stroke-linecap="round"><path d="M-8.5,-35 Q-12.8,-34 -13.2,-27 L-13.6,26 Q-13.4,33.6 -8.5,35 L8.5,35 Q13.4,33.6 13.6,26 L13.2,-27 Q12.8,-34 8.5,-35 Z" fill="#ebebeb"/><path d="M-7,-33.4 L-10.4,-14.6 M7,-33.4 L10.4,-14.6"/><path d="M-12,-13.8 Q0,-18.6 12,-13.8 L9.8,-5 Q0,-7.6 -9.8,-5 Z"/><path d="M-9.8,-5 L-10,22 M9.8,-5 L10,22"/><path d="M-12,-13.8 L-12.4,25 M12,-13.8 L12.4,25" stroke-width="0.7"/><path d="M-10,22 Q0,24 10,22 L11.4,28.6 Q0,31 -11.4,28.6 Z"/><path d="M-11.4,28.6 L-9.6,34.4 M11.4,28.6 L9.6,34.4" stroke-width="0.7"/><path d="M-13.2,-8.6 L-16,-10.2 L-13.4,-6.4 M13.2,-8.6 L16,-10.2 L13.4,-6.4"/><path d="M-13.4,2 L-13.4,14 M13.4,2 L13.4,14" stroke="#a0a0a0" stroke-width="1.1"/><path d="M-9.5,-34.2 Q0,-36 9.5,-34.2" stroke-width="0.7"/><path d="M-1.4,-33.4 h2.8" stroke="#5e5e5e" stroke-width="1.5"/></g>
<g transform="translate(672.15,547.5) rotate(180) scale(0.97,1)" fill="none" stroke="#ababab" stroke-width="0.8" stroke-linejoin="round" stroke-linecap="round"><path d="M-8.5,-35 Q-12.8,-34 -13.2,-27 L-13.6,26 Q-13.4,33.6 -8.5,35 L8.5,35 Q13.4,33.6 13.6,26 L13.2,-27 Q12.8,-34 8.5,-35 Z" fill="#ebebeb"/><path d="M-7,-33.4 L-10.4,-14.6 M7,-33.4 L10.4,-14.6"/><path d="M-12,-13.8 Q0,-18.6 12,-13.8 L9.8,-5 Q0,-7.6 -9.8,-5 Z"/><path d="M-9.8,-5 L-10,22 M9.8,-5 L10,22"/><path d="M-12,-13.8 L-12.4,25 M12,-13.8 L12.4,25" stroke-width="0.7"/><path d="M-10,22 Q0,24 10,22 L11.4,28.6 Q0,31 -11.4,28.6 Z"/><path d="M-11.4,28.6 L-9.6,34.4 M11.4,28.6 L9.6,34.4" stroke-width="0.7"/><path d="M-13.2,-8.6 L-16,-10.2 L-13.4,-6.4 M13.2,-8.6 L16,-10.2 L13.4,-6.4"/><path d="M-13.4,2 L-13.4,14 M13.4,2 L13.4,14" stroke="#a0a0a0" stroke-width="1.1"/><path d="M-9.5,-34.2 Q0,-36 9.5,-34.2" stroke-width="0.7"/><path d="M-1.4,-33.4 h2.8" stroke="#5e5e5e" stroke-width="1.5"/></g>
<g transform="translate(717.55,547.5) rotate(180) scale(0.97,1)" fill="none" stroke="#ababab" stroke-width="0.8" stroke-linejoin="round" stroke-linecap="round"><path d="M-8.5,-35 Q-12.8,-34 -13.2,-27 L-13.6,26 Q-13.4,33.6 -8.5,35 L8.5,35 Q13.4,33.6 13.6,26 L13.2,-27 Q12.8,-34 8.5,-35 Z" fill="#ebebeb"/><path d="M-7,-33.4 L-10.4,-14.6 M7,-33.4 L10.4,-14.6"/><path d="M-12,-13.8 Q0,-18.6 12,-13.8 L9.8,-5 Q0,-7.6 -9.8,-5 Z"/><path d="M-9.8,-5 L-10,22 M9.8,-5 L10,22"/><path d="M-12,-13.8 L-12.4,25 M12,-13.8 L12.4,25" stroke-width="0.7"/><path d="M-10,22 Q0,24 10,22 L11.4,28.6 Q0,31 -11.4,28.6 Z"/><path d="M-11.4,28.6 L-9.6,34.4 M11.4,28.6 L9.6,34.4" stroke-width="0.7"/><path d="M-13.2,-8.6 L-16,-10.2 L-13.4,-6.4 M13.2,-8.6 L16,-10.2 L13.4,-6.4"/><path d="M-13.4,2 L-13.4,14 M13.4,2 L13.4,14" stroke="#a0a0a0" stroke-width="1.1"/><path d="M-9.5,-34.2 Q0,-36 9.5,-34.2" stroke-width="0.7"/><path d="M-1.4,-33.4 h2.8" stroke="#5e5e5e" stroke-width="1.5"/></g>
<ellipse cx="219.6" cy="513.5" rx="2.9" ry="5.2" fill="#d0d0d0" stroke="#111" stroke-width="0.7"/>
<line x1="219.6" y1="509" x2="219.6" y2="518" stroke="#000000" stroke-width="1" shape-rendering="crispEdges"/>
<ellipse cx="478.4" cy="513.5" rx="2.9" ry="5.2" fill="#d0d0d0" stroke="#111" stroke-width="0.7"/>
<line x1="478.4" y1="509" x2="478.4" y2="518" stroke="#000000" stroke-width="1" shape-rendering="crispEdges"/>
<ellipse cx="564.4" cy="513.5" rx="2.9" ry="5.2" fill="#d0d0d0" stroke="#111" stroke-width="0.7"/>
<line x1="564.4" y1="509" x2="564.4" y2="518" stroke="#000000" stroke-width="1" shape-rendering="crispEdges"/>
<ellipse cx="651" cy="513.5" rx="2.9" ry="5.2" fill="#d0d0d0" stroke="#111" stroke-width="0.7"/>
<line x1="651" y1="509" x2="651" y2="518" stroke="#000000" stroke-width="1" shape-rendering="crispEdges"/>
<ellipse cx="305.8" cy="513.5" rx="2.2" ry="4.6" fill="#cfcfcf" stroke="#bdbdbd" stroke-width="0.5"/>
<ellipse cx="392" cy="513.5" rx="2.2" ry="4.6" fill="#cfcfcf" stroke="#bdbdbd" stroke-width="0.5"/>
<line x1="386" y1="409" x2="734" y2="409" stroke="#000000" stroke-width="1" stroke-dasharray="6 1.5" shape-rendering="crispEdges"/>
<line x1="386" y1="325.2" x2="401" y2="325.2" stroke="#000000" stroke-width="1" stroke-dasharray="6 1.5" shape-rendering="crispEdges"/>
<line x1="435.6" y1="326" x2="435.6" y2="409" stroke="#000000" stroke-width="1" stroke-dasharray="6 1.5" shape-rendering="crispEdges"/>
<line x1="478.6" y1="326" x2="478.6" y2="409" stroke="#000000" stroke-width="1" stroke-dasharray="6 1.5" shape-rendering="crispEdges"/>
<line x1="521.6" y1="326" x2="521.6" y2="409" stroke="#000000" stroke-width="1" stroke-dasharray="6 1.5" shape-rendering="crispEdges"/>
<line x1="564.4" y1="326" x2="564.4" y2="409" stroke="#000000" stroke-width="1" stroke-dasharray="6 1.5" shape-rendering="crispEdges"/>
<line x1="607.6" y1="326" x2="607.6" y2="409" stroke="#000000" stroke-width="1" stroke-dasharray="6 1.5" shape-rendering="crispEdges"/>
<line x1="651.2" y1="326" x2="651.2" y2="409" stroke="#000000" stroke-width="1" stroke-dasharray="6 1.5" shape-rendering="crispEdges"/>
<line x1="692.6" y1="326" x2="692.6" y2="409" stroke="#000000" stroke-width="1" stroke-dasharray="6 1.5" shape-rendering="crispEdges"/>
<g transform="translate(414.5,368) rotate(0) scale(0.97,1)" fill="none" stroke="#ababab" stroke-width="0.8" stroke-linejoin="round" stroke-linecap="round"><path d="M-8.5,-35 Q-12.8,-34 -13.2,-27 L-13.6,26 Q-13.4,33.6 -8.5,35 L8.5,35 Q13.4,33.6 13.6,26 L13.2,-27 Q12.8,-34 8.5,-35 Z" fill="#ebebeb"/><path d="M-7,-33.4 L-10.4,-14.6 M7,-33.4 L10.4,-14.6"/><path d="M-12,-13.8 Q0,-18.6 12,-13.8 L9.8,-5 Q0,-7.6 -9.8,-5 Z"/><path d="M-9.8,-5 L-10,22 M9.8,-5 L10,22"/><path d="M-12,-13.8 L-12.4,25 M12,-13.8 L12.4,25" stroke-width="0.7"/><path d="M-10,22 Q0,24 10,22 L11.4,28.6 Q0,31 -11.4,28.6 Z"/><path d="M-11.4,28.6 L-9.6,34.4 M11.4,28.6 L9.6,34.4" stroke-width="0.7"/><path d="M-13.2,-8.6 L-16,-10.2 L-13.4,-6.4 M13.2,-8.6 L16,-10.2 L13.4,-6.4"/><path d="M-13.4,2 L-13.4,14 M13.4,2 L13.4,14" stroke="#a0a0a0" stroke-width="1.1"/><path d="M-9.5,-34.2 Q0,-36 9.5,-34.2" stroke-width="0.7"/><path d="M-1.4,-33.4 h2.8" stroke="#5e5e5e" stroke-width="1.5"/></g>
<g transform="translate(456,368) rotate(0) scale(0.97,1)" fill="none" stroke="#ababab" stroke-width="0.8" stroke-linejoin="round" stroke-linecap="round"><path d="M-8.5,-35 Q-12.8,-34 -13.2,-27 L-13.6,26 Q-13.4,33.6 -8.5,35 L8.5,35 Q13.4,33.6 13.6,26 L13.2,-27 Q12.8,-34 8.5,-35 Z" fill="#ebebeb"/><path d="M-7,-33.4 L-10.4,-14.6 M7,-33.4 L10.4,-14.6"/><path d="M-12,-13.8 Q0,-18.6 12,-13.8 L9.8,-5 Q0,-7.6 -9.8,-5 Z"/><path d="M-9.8,-5 L-10,22 M9.8,-5 L10,22"/><path d="M-12,-13.8 L-12.4,25 M12,-13.8 L12.4,25" stroke-width="0.7"/><path d="M-10,22 Q0,24 10,22 L11.4,28.6 Q0,31 -11.4,28.6 Z"/><path d="M-11.4,28.6 L-9.6,34.4 M11.4,28.6 L9.6,34.4" stroke-width="0.7"/><path d="M-13.2,-8.6 L-16,-10.2 L-13.4,-6.4 M13.2,-8.6 L16,-10.2 L13.4,-6.4"/><path d="M-13.4,2 L-13.4,14 M13.4,2 L13.4,14" stroke="#a0a0a0" stroke-width="1.1"/><path d="M-9.5,-34.2 Q0,-36 9.5,-34.2" stroke-width="0.7"/><path d="M-1.4,-33.4 h2.8" stroke="#5e5e5e" stroke-width="1.5"/></g>
<g transform="translate(499,368) rotate(0) scale(0.97,1)" fill="none" stroke="#ababab" stroke-width="0.8" stroke-linejoin="round" stroke-linecap="round"><path d="M-8.5,-35 Q-12.8,-34 -13.2,-27 L-13.6,26 Q-13.4,33.6 -8.5,35 L8.5,35 Q13.4,33.6 13.6,26 L13.2,-27 Q12.8,-34 8.5,-35 Z" fill="#ebebeb"/><path d="M-7,-33.4 L-10.4,-14.6 M7,-33.4 L10.4,-14.6"/><path d="M-12,-13.8 Q0,-18.6 12,-13.8 L9.8,-5 Q0,-7.6 -9.8,-5 Z"/><path d="M-9.8,-5 L-10,22 M9.8,-5 L10,22"/><path d="M-12,-13.8 L-12.4,25 M12,-13.8 L12.4,25" stroke-width="0.7"/><path d="M-10,22 Q0,24 10,22 L11.4,28.6 Q0,31 -11.4,28.6 Z"/><path d="M-11.4,28.6 L-9.6,34.4 M11.4,28.6 L9.6,34.4" stroke-width="0.7"/><path d="M-13.2,-8.6 L-16,-10.2 L-13.4,-6.4 M13.2,-8.6 L16,-10.2 L13.4,-6.4"/><path d="M-13.4,2 L-13.4,14 M13.4,2 L13.4,14" stroke="#a0a0a0" stroke-width="1.1"/><path d="M-9.5,-34.2 Q0,-36 9.5,-34.2" stroke-width="0.7"/><path d="M-1.4,-33.4 h2.8" stroke="#5e5e5e" stroke-width="1.5"/></g>
<g transform="translate(541.5,368) rotate(0) scale(0.97,1)" fill="none" stroke="#ababab" stroke-width="0.8" stroke-linejoin="round" stroke-linecap="round"><path d="M-8.5,-35 Q-12.8,-34 -13.2,-27 L-13.6,26 Q-13.4,33.6 -8.5,35 L8.5,35 Q13.4,33.6 13.6,26 L13.2,-27 Q12.8,-34 8.5,-35 Z" fill="#ebebeb"/><path d="M-7,-33.4 L-10.4,-14.6 M7,-33.4 L10.4,-14.6"/><path d="M-12,-13.8 Q0,-18.6 12,-13.8 L9.8,-5 Q0,-7.6 -9.8,-5 Z"/><path d="M-9.8,-5 L-10,22 M9.8,-5 L10,22"/><path d="M-12,-13.8 L-12.4,25 M12,-13.8 L12.4,25" stroke-width="0.7"/><path d="M-10,22 Q0,24 10,22 L11.4,28.6 Q0,31 -11.4,28.6 Z"/><path d="M-11.4,28.6 L-9.6,34.4 M11.4,28.6 L9.6,34.4" stroke-width="0.7"/><path d="M-13.2,-8.6 L-16,-10.2 L-13.4,-6.4 M13.2,-8.6 L16,-10.2 L13.4,-6.4"/><path d="M-13.4,2 L-13.4,14 M13.4,2 L13.4,14" stroke="#a0a0a0" stroke-width="1.1"/><path d="M-9.5,-34.2 Q0,-36 9.5,-34.2" stroke-width="0.7"/><path d="M-1.4,-33.4 h2.8" stroke="#5e5e5e" stroke-width="1.5"/></g>
<g transform="translate(586.5,368) rotate(0) scale(0.97,1)" fill="none" stroke="#ababab" stroke-width="0.8" stroke-linejoin="round" stroke-linecap="round"><path d="M-8.5,-35 Q-12.8,-34 -13.2,-27 L-13.6,26 Q-13.4,33.6 -8.5,35 L8.5,35 Q13.4,33.6 13.6,26 L13.2,-27 Q12.8,-34 8.5,-35 Z" fill="#ebebeb"/><path d="M-7,-33.4 L-10.4,-14.6 M7,-33.4 L10.4,-14.6"/><path d="M-12,-13.8 Q0,-18.6 12,-13.8 L9.8,-5 Q0,-7.6 -9.8,-5 Z"/><path d="M-9.8,-5 L-10,22 M9.8,-5 L10,22"/><path d="M-12,-13.8 L-12.4,25 M12,-13.8 L12.4,25" stroke-width="0.7"/><path d="M-10,22 Q0,24 10,22 L11.4,28.6 Q0,31 -11.4,28.6 Z"/><path d="M-11.4,28.6 L-9.6,34.4 M11.4,28.6 L9.6,34.4" stroke-width="0.7"/><path d="M-13.2,-8.6 L-16,-10.2 L-13.4,-6.4 M13.2,-8.6 L16,-10.2 L13.4,-6.4"/><path d="M-13.4,2 L-13.4,14 M13.4,2 L13.4,14" stroke="#a0a0a0" stroke-width="1.1"/><path d="M-9.5,-34.2 Q0,-36 9.5,-34.2" stroke-width="0.7"/><path d="M-1.4,-33.4 h2.8" stroke="#5e5e5e" stroke-width="1.5"/></g>
<g transform="translate(630,368) rotate(0) scale(0.97,1)" fill="none" stroke="#ababab" stroke-width="0.8" stroke-linejoin="round" stroke-linecap="round"><path d="M-8.5,-35 Q-12.8,-34 -13.2,-27 L-13.6,26 Q-13.4,33.6 -8.5,35 L8.5,35 Q13.4,33.6 13.6,26 L13.2,-27 Q12.8,-34 8.5,-35 Z" fill="#ebebeb"/><path d="M-7,-33.4 L-10.4,-14.6 M7,-33.4 L10.4,-14.6"/><path d="M-12,-13.8 Q0,-18.6 12,-13.8 L9.8,-5 Q0,-7.6 -9.8,-5 Z"/><path d="M-9.8,-5 L-10,22 M9.8,-5 L10,22"/><path d="M-12,-13.8 L-12.4,25 M12,-13.8 L12.4,25" stroke-width="0.7"/><path d="M-10,22 Q0,24 10,22 L11.4,28.6 Q0,31 -11.4,28.6 Z"/><path d="M-11.4,28.6 L-9.6,34.4 M11.4,28.6 L9.6,34.4" stroke-width="0.7"/><path d="M-13.2,-8.6 L-16,-10.2 L-13.4,-6.4 M13.2,-8.6 L16,-10.2 L13.4,-6.4"/><path d="M-13.4,2 L-13.4,14 M13.4,2 L13.4,14" stroke="#a0a0a0" stroke-width="1.1"/><path d="M-9.5,-34.2 Q0,-36 9.5,-34.2" stroke-width="0.7"/><path d="M-1.4,-33.4 h2.8" stroke="#5e5e5e" stroke-width="1.5"/></g>
<g transform="translate(672,368) rotate(0) scale(0.97,1)" fill="none" stroke="#ababab" stroke-width="0.8" stroke-linejoin="round" stroke-linecap="round"><path d="M-8.5,-35 Q-12.8,-34 -13.2,-27 L-13.6,26 Q-13.4,33.6 -8.5,35 L8.5,35 Q13.4,33.6 13.6,26 L13.2,-27 Q12.8,-34 8.5,-35 Z" fill="#ebebeb"/><path d="M-7,-33.4 L-10.4,-14.6 M7,-33.4 L10.4,-14.6"/><path d="M-12,-13.8 Q0,-18.6 12,-13.8 L9.8,-5 Q0,-7.6 -9.8,-5 Z"/><path d="M-9.8,-5 L-10,22 M9.8,-5 L10,22"/><path d="M-12,-13.8 L-12.4,25 M12,-13.8 L12.4,25" stroke-width="0.7"/><path d="M-10,22 Q0,24 10,22 L11.4,28.6 Q0,31 -11.4,28.6 Z"/><path d="M-11.4,28.6 L-9.6,34.4 M11.4,28.6 L9.6,34.4" stroke-width="0.7"/><path d="M-13.2,-8.6 L-16,-10.2 L-13.4,-6.4 M13.2,-8.6 L16,-10.2 L13.4,-6.4"/><path d="M-13.4,2 L-13.4,14 M13.4,2 L13.4,14" stroke="#a0a0a0" stroke-width="1.1"/><path d="M-9.5,-34.2 Q0,-36 9.5,-34.2" stroke-width="0.7"/><path d="M-1.4,-33.4 h2.8" stroke="#5e5e5e" stroke-width="1.5"/></g>
<g transform="translate(714,368) rotate(0) scale(0.97,1)" fill="none" stroke="#ababab" stroke-width="0.8" stroke-linejoin="round" stroke-linecap="round"><path d="M-8.5,-35 Q-12.8,-34 -13.2,-27 L-13.6,26 Q-13.4,33.6 -8.5,35 L8.5,35 Q13.4,33.6 13.6,26 L13.2,-27 Q12.8,-34 8.5,-35 Z" fill="#ebebeb"/><path d="M-7,-33.4 L-10.4,-14.6 M7,-33.4 L10.4,-14.6"/><path d="M-12,-13.8 Q0,-18.6 12,-13.8 L9.8,-5 Q0,-7.6 -9.8,-5 Z"/><path d="M-9.8,-5 L-10,22 M9.8,-5 L10,22"/><path d="M-12,-13.8 L-12.4,25 M12,-13.8 L12.4,25" stroke-width="0.7"/><path d="M-10,22 Q0,24 10,22 L11.4,28.6 Q0,31 -11.4,28.6 Z"/><path d="M-11.4,28.6 L-9.6,34.4 M11.4,28.6 L9.6,34.4" stroke-width="0.7"/><path d="M-13.2,-8.6 L-16,-10.2 L-13.4,-6.4 M13.2,-8.6 L16,-10.2 L13.4,-6.4"/><path d="M-13.4,2 L-13.4,14 M13.4,2 L13.4,14" stroke="#a0a0a0" stroke-width="1.1"/><path d="M-9.5,-34.2 Q0,-36 9.5,-34.2" stroke-width="0.7"/><path d="M-1.4,-33.4 h2.8" stroke="#5e5e5e" stroke-width="1.5"/></g>
<ellipse cx="392.4" cy="341" rx="2.9" ry="5.2" fill="#d0d0d0" stroke="#111" stroke-width="0.7"/>
<ellipse cx="392.4" cy="400" rx="2.9" ry="5.2" fill="#d0d0d0" stroke="#111" stroke-width="0.7"/>
<ellipse cx="478.6" cy="340.5" rx="2.9" ry="5.2" fill="#d0d0d0" stroke="#111" stroke-width="0.7"/>
<line x1="478.6" y1="336" x2="478.6" y2="345" stroke="#000000" stroke-width="1" shape-rendering="crispEdges"/>
<ellipse cx="478.6" cy="400" rx="2.9" ry="5.2" fill="#d0d0d0" stroke="#111" stroke-width="0.7"/>
<line x1="478.6" y1="395.5" x2="478.6" y2="404.5" stroke="#000000" stroke-width="1" shape-rendering="crispEdges"/>
<ellipse cx="565" cy="400" rx="2.9" ry="5.2" fill="#d0d0d0" stroke="#111" stroke-width="0.7"/>
<line x1="565" y1="395.5" x2="565" y2="404.5" stroke="#000000" stroke-width="1" shape-rendering="crispEdges"/>
<ellipse cx="651.4" cy="400" rx="2.9" ry="5.2" fill="#d0d0d0" stroke="#111" stroke-width="0.7"/>
<line x1="651.4" y1="395.5" x2="651.4" y2="404.5" stroke="#000000" stroke-width="1" shape-rendering="crispEdges"/>
<ellipse cx="219.6" cy="407.4" rx="2.9" ry="5.2" fill="#d0d0d0" stroke="#111" stroke-width="0.7"/>
<line x1="738.6" y1="194.5" x2="819.6" y2="194.5" stroke="#000000" stroke-width="1" stroke-dasharray="6 1.5" shape-rendering="crispEdges"/>
<line x1="738.6" y1="240.4" x2="819.6" y2="240.4" stroke="#000000" stroke-width="1" stroke-dasharray="6 1.5" shape-rendering="crispEdges"/>
<line x1="738.6" y1="283.5" x2="819.6" y2="283.5" stroke="#000000" stroke-width="1" stroke-dasharray="6 1.5" shape-rendering="crispEdges"/>
<line x1="738.6" y1="326.4" x2="819.6" y2="326.4" stroke="#000000" stroke-width="1" stroke-dasharray="6 1.5" shape-rendering="crispEdges"/>
<line x1="738.6" y1="369.3" x2="819.6" y2="369.3" stroke="#000000" stroke-width="1" stroke-dasharray="6 1.5" shape-rendering="crispEdges"/>
<line x1="748" y1="413.5" x2="819.6" y2="413.5" stroke="#000000" stroke-width="1" stroke-dasharray="6 1.5" shape-rendering="crispEdges"/>
<line x1="819.6" y1="194.4" x2="819.6" y2="413.8" stroke="#000000" stroke-width="1" stroke-dasharray="6 1.5" shape-rendering="crispEdges"/>
<g transform="translate(780.6,215) rotate(-90) scale(0.97,1)" fill="none" stroke="#ababab" stroke-width="0.8" stroke-linejoin="round" stroke-linecap="round"><path d="M-8.5,-35 Q-12.8,-34 -13.2,-27 L-13.6,26 Q-13.4,33.6 -8.5,35 L8.5,35 Q13.4,33.6 13.6,26 L13.2,-27 Q12.8,-34 8.5,-35 Z" fill="#ebebeb"/><path d="M-7,-33.4 L-10.4,-14.6 M7,-33.4 L10.4,-14.6"/><path d="M-12,-13.8 Q0,-18.6 12,-13.8 L9.8,-5 Q0,-7.6 -9.8,-5 Z"/><path d="M-9.8,-5 L-10,22 M9.8,-5 L10,22"/><path d="M-12,-13.8 L-12.4,25 M12,-13.8 L12.4,25" stroke-width="0.7"/><path d="M-10,22 Q0,24 10,22 L11.4,28.6 Q0,31 -11.4,28.6 Z"/><path d="M-11.4,28.6 L-9.6,34.4 M11.4,28.6 L9.6,34.4" stroke-width="0.7"/><path d="M-13.2,-8.6 L-16,-10.2 L-13.4,-6.4 M13.2,-8.6 L16,-10.2 L13.4,-6.4"/><path d="M-13.4,2 L-13.4,14 M13.4,2 L13.4,14" stroke="#a0a0a0" stroke-width="1.1"/><path d="M-9.5,-34.2 Q0,-36 9.5,-34.2" stroke-width="0.7"/><path d="M-1.4,-33.4 h2.8" stroke="#5e5e5e" stroke-width="1.5"/></g>
<g transform="translate(780.6,261) rotate(-90) scale(0.97,1)" fill="none" stroke="#ababab" stroke-width="0.8" stroke-linejoin="round" stroke-linecap="round"><path d="M-8.5,-35 Q-12.8,-34 -13.2,-27 L-13.6,26 Q-13.4,33.6 -8.5,35 L8.5,35 Q13.4,33.6 13.6,26 L13.2,-27 Q12.8,-34 8.5,-35 Z" fill="#ebebeb"/><path d="M-7,-33.4 L-10.4,-14.6 M7,-33.4 L10.4,-14.6"/><path d="M-12,-13.8 Q0,-18.6 12,-13.8 L9.8,-5 Q0,-7.6 -9.8,-5 Z"/><path d="M-9.8,-5 L-10,22 M9.8,-5 L10,22"/><path d="M-12,-13.8 L-12.4,25 M12,-13.8 L12.4,25" stroke-width="0.7"/><path d="M-10,22 Q0,24 10,22 L11.4,28.6 Q0,31 -11.4,28.6 Z"/><path d="M-11.4,28.6 L-9.6,34.4 M11.4,28.6 L9.6,34.4" stroke-width="0.7"/><path d="M-13.2,-8.6 L-16,-10.2 L-13.4,-6.4 M13.2,-8.6 L16,-10.2 L13.4,-6.4"/><path d="M-13.4,2 L-13.4,14 M13.4,2 L13.4,14" stroke="#a0a0a0" stroke-width="1.1"/><path d="M-9.5,-34.2 Q0,-36 9.5,-34.2" stroke-width="0.7"/><path d="M-1.4,-33.4 h2.8" stroke="#5e5e5e" stroke-width="1.5"/></g>
<g transform="translate(780.6,304.2) rotate(-90) scale(0.97,1)" fill="none" stroke="#ababab" stroke-width="0.8" stroke-linejoin="round" stroke-linecap="round"><path d="M-8.5,-35 Q-12.8,-34 -13.2,-27 L-13.6,26 Q-13.4,33.6 -8.5,35 L8.5,35 Q13.4,33.6 13.6,26 L13.2,-27 Q12.8,-34 8.5,-35 Z" fill="#ebebeb"/><path d="M-7,-33.4 L-10.4,-14.6 M7,-33.4 L10.4,-14.6"/><path d="M-12,-13.8 Q0,-18.6 12,-13.8 L9.8,-5 Q0,-7.6 -9.8,-5 Z"/><path d="M-9.8,-5 L-10,22 M9.8,-5 L10,22"/><path d="M-12,-13.8 L-12.4,25 M12,-13.8 L12.4,25" stroke-width="0.7"/><path d="M-10,22 Q0,24 10,22 L11.4,28.6 Q0,31 -11.4,28.6 Z"/><path d="M-11.4,28.6 L-9.6,34.4 M11.4,28.6 L9.6,34.4" stroke-width="0.7"/><path d="M-13.2,-8.6 L-16,-10.2 L-13.4,-6.4 M13.2,-8.6 L16,-10.2 L13.4,-6.4"/><path d="M-13.4,2 L-13.4,14 M13.4,2 L13.4,14" stroke="#a0a0a0" stroke-width="1.1"/><path d="M-9.5,-34.2 Q0,-36 9.5,-34.2" stroke-width="0.7"/><path d="M-1.4,-33.4 h2.8" stroke="#5e5e5e" stroke-width="1.5"/></g>
<g transform="translate(780.6,349.2) rotate(-90) scale(0.97,1)" fill="none" stroke="#ababab" stroke-width="0.8" stroke-linejoin="round" stroke-linecap="round"><path d="M-8.5,-35 Q-12.8,-34 -13.2,-27 L-13.6,26 Q-13.4,33.6 -8.5,35 L8.5,35 Q13.4,33.6 13.6,26 L13.2,-27 Q12.8,-34 8.5,-35 Z" fill="#ebebeb"/><path d="M-7,-33.4 L-10.4,-14.6 M7,-33.4 L10.4,-14.6"/><path d="M-12,-13.8 Q0,-18.6 12,-13.8 L9.8,-5 Q0,-7.6 -9.8,-5 Z"/><path d="M-9.8,-5 L-10,22 M9.8,-5 L10,22"/><path d="M-12,-13.8 L-12.4,25 M12,-13.8 L12.4,25" stroke-width="0.7"/><path d="M-10,22 Q0,24 10,22 L11.4,28.6 Q0,31 -11.4,28.6 Z"/><path d="M-11.4,28.6 L-9.6,34.4 M11.4,28.6 L9.6,34.4" stroke-width="0.7"/><path d="M-13.2,-8.6 L-16,-10.2 L-13.4,-6.4 M13.2,-8.6 L16,-10.2 L13.4,-6.4"/><path d="M-13.4,2 L-13.4,14 M13.4,2 L13.4,14" stroke="#a0a0a0" stroke-width="1.1"/><path d="M-9.5,-34.2 Q0,-36 9.5,-34.2" stroke-width="0.7"/><path d="M-1.4,-33.4 h2.8" stroke="#5e5e5e" stroke-width="1.5"/></g>
<g transform="translate(780.6,387.5) rotate(-90) scale(0.97,1)" fill="none" stroke="#ababab" stroke-width="0.8" stroke-linejoin="round" stroke-linecap="round"><path d="M-8.5,-35 Q-12.8,-34 -13.2,-27 L-13.6,26 Q-13.4,33.6 -8.5,35 L8.5,35 Q13.4,33.6 13.6,26 L13.2,-27 Q12.8,-34 8.5,-35 Z" fill="#ebebeb"/><path d="M-7,-33.4 L-10.4,-14.6 M7,-33.4 L10.4,-14.6"/><path d="M-12,-13.8 Q0,-18.6 12,-13.8 L9.8,-5 Q0,-7.6 -9.8,-5 Z"/><path d="M-9.8,-5 L-10,22 M9.8,-5 L10,22"/><path d="M-12,-13.8 L-12.4,25 M12,-13.8 L12.4,25" stroke-width="0.7"/><path d="M-10,22 Q0,24 10,22 L11.4,28.6 Q0,31 -11.4,28.6 Z"/><path d="M-11.4,28.6 L-9.6,34.4 M11.4,28.6 L9.6,34.4" stroke-width="0.7"/><path d="M-13.2,-8.6 L-16,-10.2 L-13.4,-6.4 M13.2,-8.6 L16,-10.2 L13.4,-6.4"/><path d="M-13.4,2 L-13.4,14 M13.4,2 L13.4,14" stroke="#a0a0a0" stroke-width="1.1"/><path d="M-9.5,-34.2 Q0,-36 9.5,-34.2" stroke-width="0.7"/><path d="M-1.4,-33.4 h2.8" stroke="#5e5e5e" stroke-width="1.5"/></g>
<ellipse cx="809" cy="240.3" rx="5.2" ry="2.9" fill="#d0d0d0" stroke="#111" stroke-width="0.7"/>
<line x1="804.5" y1="240.3" x2="813.5" y2="240.3" stroke="#000000" stroke-width="1" shape-rendering="crispEdges"/>
<ellipse cx="809" cy="326.3" rx="5.2" ry="2.9" fill="#d0d0d0" stroke="#111" stroke-width="0.7"/>
<line x1="804.5" y1="326.3" x2="813.5" y2="326.3" stroke="#000000" stroke-width="1" shape-rendering="crispEdges"/>
<ellipse cx="809" cy="413.4" rx="5.2" ry="2.9" fill="#d0d0d0" stroke="#111" stroke-width="0.7"/>
<line x1="804.5" y1="413.4" x2="813.5" y2="413.4" stroke="#000000" stroke-width="1" shape-rendering="crispEdges"/>
<line x1="915.6" y1="142.5" x2="915.6" y2="589.6" stroke="#000000" stroke-width="1" stroke-dasharray="6 1.5" shape-rendering="crispEdges"/>
<line x1="915.6" y1="283.6" x2="1001" y2="283.6" stroke="#000000" stroke-width="1" stroke-dasharray="6 1.5" shape-rendering="crispEdges"/>
<line x1="915.6" y1="326.6" x2="1001" y2="326.6" stroke="#000000" stroke-width="1" stroke-dasharray="6 1.5" shape-rendering="crispEdges"/>
<line x1="915.6" y1="369.6" x2="1001" y2="369.6" stroke="#000000" stroke-width="1" stroke-dasharray="6 1.5" shape-rendering="crispEdges"/>
<line x1="915.6" y1="413" x2="1001" y2="413" stroke="#000000" stroke-width="1" stroke-dasharray="6 1.5" shape-rendering="crispEdges"/>
<line x1="915.6" y1="456.4" x2="1001" y2="456.4" stroke="#000000" stroke-width="1" stroke-dasharray="6 1.5" shape-rendering="crispEdges"/>
<line x1="915.6" y1="499.6" x2="1001" y2="499.6" stroke="#000000" stroke-width="1" stroke-dasharray="6 1.5" shape-rendering="crispEdges"/>
<line x1="915.6" y1="542.6" x2="1001" y2="542.6" stroke="#000000" stroke-width="1" stroke-dasharray="6 1.5" shape-rendering="crispEdges"/>
<g transform="translate(958,262) rotate(90) scale(0.97,1)" fill="none" stroke="#ababab" stroke-width="0.8" stroke-linejoin="round" stroke-linecap="round"><path d="M-8.5,-35 Q-12.8,-34 -13.2,-27 L-13.6,26 Q-13.4,33.6 -8.5,35 L8.5,35 Q13.4,33.6 13.6,26 L13.2,-27 Q12.8,-34 8.5,-35 Z" fill="#ebebeb"/><path d="M-7,-33.4 L-10.4,-14.6 M7,-33.4 L10.4,-14.6"/><path d="M-12,-13.8 Q0,-18.6 12,-13.8 L9.8,-5 Q0,-7.6 -9.8,-5 Z"/><path d="M-9.8,-5 L-10,22 M9.8,-5 L10,22"/><path d="M-12,-13.8 L-12.4,25 M12,-13.8 L12.4,25" stroke-width="0.7"/><path d="M-10,22 Q0,24 10,22 L11.4,28.6 Q0,31 -11.4,28.6 Z"/><path d="M-11.4,28.6 L-9.6,34.4 M11.4,28.6 L9.6,34.4" stroke-width="0.7"/><path d="M-13.2,-8.6 L-16,-10.2 L-13.4,-6.4 M13.2,-8.6 L16,-10.2 L13.4,-6.4"/><path d="M-13.4,2 L-13.4,14 M13.4,2 L13.4,14" stroke="#a0a0a0" stroke-width="1.1"/><path d="M-9.5,-34.2 Q0,-36 9.5,-34.2" stroke-width="0.7"/><path d="M-1.4,-33.4 h2.8" stroke="#5e5e5e" stroke-width="1.5"/></g>
<g transform="translate(958,303) rotate(90) scale(0.97,1)" fill="none" stroke="#ababab" stroke-width="0.8" stroke-linejoin="round" stroke-linecap="round"><path d="M-8.5,-35 Q-12.8,-34 -13.2,-27 L-13.6,26 Q-13.4,33.6 -8.5,35 L8.5,35 Q13.4,33.6 13.6,26 L13.2,-27 Q12.8,-34 8.5,-35 Z" fill="#ebebeb"/><path d="M-7,-33.4 L-10.4,-14.6 M7,-33.4 L10.4,-14.6"/><path d="M-12,-13.8 Q0,-18.6 12,-13.8 L9.8,-5 Q0,-7.6 -9.8,-5 Z"/><path d="M-9.8,-5 L-10,22 M9.8,-5 L10,22"/><path d="M-12,-13.8 L-12.4,25 M12,-13.8 L12.4,25" stroke-width="0.7"/><path d="M-10,22 Q0,24 10,22 L11.4,28.6 Q0,31 -11.4,28.6 Z"/><path d="M-11.4,28.6 L-9.6,34.4 M11.4,28.6 L9.6,34.4" stroke-width="0.7"/><path d="M-13.2,-8.6 L-16,-10.2 L-13.4,-6.4 M13.2,-8.6 L16,-10.2 L13.4,-6.4"/><path d="M-13.4,2 L-13.4,14 M13.4,2 L13.4,14" stroke="#a0a0a0" stroke-width="1.1"/><path d="M-9.5,-34.2 Q0,-36 9.5,-34.2" stroke-width="0.7"/><path d="M-1.4,-33.4 h2.8" stroke="#5e5e5e" stroke-width="1.5"/></g>
<g transform="translate(958,348) rotate(90) scale(0.97,1)" fill="none" stroke="#ababab" stroke-width="0.8" stroke-linejoin="round" stroke-linecap="round"><path d="M-8.5,-35 Q-12.8,-34 -13.2,-27 L-13.6,26 Q-13.4,33.6 -8.5,35 L8.5,35 Q13.4,33.6 13.6,26 L13.2,-27 Q12.8,-34 8.5,-35 Z" fill="#ebebeb"/><path d="M-7,-33.4 L-10.4,-14.6 M7,-33.4 L10.4,-14.6"/><path d="M-12,-13.8 Q0,-18.6 12,-13.8 L9.8,-5 Q0,-7.6 -9.8,-5 Z"/><path d="M-9.8,-5 L-10,22 M9.8,-5 L10,22"/><path d="M-12,-13.8 L-12.4,25 M12,-13.8 L12.4,25" stroke-width="0.7"/><path d="M-10,22 Q0,24 10,22 L11.4,28.6 Q0,31 -11.4,28.6 Z"/><path d="M-11.4,28.6 L-9.6,34.4 M11.4,28.6 L9.6,34.4" stroke-width="0.7"/><path d="M-13.2,-8.6 L-16,-10.2 L-13.4,-6.4 M13.2,-8.6 L16,-10.2 L13.4,-6.4"/><path d="M-13.4,2 L-13.4,14 M13.4,2 L13.4,14" stroke="#a0a0a0" stroke-width="1.1"/><path d="M-9.5,-34.2 Q0,-36 9.5,-34.2" stroke-width="0.7"/><path d="M-1.4,-33.4 h2.8" stroke="#5e5e5e" stroke-width="1.5"/></g>
<g transform="translate(958,389.6) rotate(90) scale(0.97,1)" fill="none" stroke="#ababab" stroke-width="0.8" stroke-linejoin="round" stroke-linecap="round"><path d="M-8.5,-35 Q-12.8,-34 -13.2,-27 L-13.6,26 Q-13.4,33.6 -8.5,35 L8.5,35 Q13.4,33.6 13.6,26 L13.2,-27 Q12.8,-34 8.5,-35 Z" fill="#ebebeb"/><path d="M-7,-33.4 L-10.4,-14.6 M7,-33.4 L10.4,-14.6"/><path d="M-12,-13.8 Q0,-18.6 12,-13.8 L9.8,-5 Q0,-7.6 -9.8,-5 Z"/><path d="M-9.8,-5 L-10,22 M9.8,-5 L10,22"/><path d="M-12,-13.8 L-12.4,25 M12,-13.8 L12.4,25" stroke-width="0.7"/><path d="M-10,22 Q0,24 10,22 L11.4,28.6 Q0,31 -11.4,28.6 Z"/><path d="M-11.4,28.6 L-9.6,34.4 M11.4,28.6 L9.6,34.4" stroke-width="0.7"/><path d="M-13.2,-8.6 L-16,-10.2 L-13.4,-6.4 M13.2,-8.6 L16,-10.2 L13.4,-6.4"/><path d="M-13.4,2 L-13.4,14 M13.4,2 L13.4,14" stroke="#a0a0a0" stroke-width="1.1"/><path d="M-9.5,-34.2 Q0,-36 9.5,-34.2" stroke-width="0.7"/><path d="M-1.4,-33.4 h2.8" stroke="#5e5e5e" stroke-width="1.5"/></g>
<g transform="translate(958,434.2) rotate(90) scale(0.97,1)" fill="none" stroke="#ababab" stroke-width="0.8" stroke-linejoin="round" stroke-linecap="round"><path d="M-8.5,-35 Q-12.8,-34 -13.2,-27 L-13.6,26 Q-13.4,33.6 -8.5,35 L8.5,35 Q13.4,33.6 13.6,26 L13.2,-27 Q12.8,-34 8.5,-35 Z" fill="#ebebeb"/><path d="M-7,-33.4 L-10.4,-14.6 M7,-33.4 L10.4,-14.6"/><path d="M-12,-13.8 Q0,-18.6 12,-13.8 L9.8,-5 Q0,-7.6 -9.8,-5 Z"/><path d="M-9.8,-5 L-10,22 M9.8,-5 L10,22"/><path d="M-12,-13.8 L-12.4,25 M12,-13.8 L12.4,25" stroke-width="0.7"/><path d="M-10,22 Q0,24 10,22 L11.4,28.6 Q0,31 -11.4,28.6 Z"/><path d="M-11.4,28.6 L-9.6,34.4 M11.4,28.6 L9.6,34.4" stroke-width="0.7"/><path d="M-13.2,-8.6 L-16,-10.2 L-13.4,-6.4 M13.2,-8.6 L16,-10.2 L13.4,-6.4"/><path d="M-13.4,2 L-13.4,14 M13.4,2 L13.4,14" stroke="#a0a0a0" stroke-width="1.1"/><path d="M-9.5,-34.2 Q0,-36 9.5,-34.2" stroke-width="0.7"/><path d="M-1.4,-33.4 h2.8" stroke="#5e5e5e" stroke-width="1.5"/></g>
<g transform="translate(958,475) rotate(90) scale(0.97,1)" fill="none" stroke="#ababab" stroke-width="0.8" stroke-linejoin="round" stroke-linecap="round"><path d="M-8.5,-35 Q-12.8,-34 -13.2,-27 L-13.6,26 Q-13.4,33.6 -8.5,35 L8.5,35 Q13.4,33.6 13.6,26 L13.2,-27 Q12.8,-34 8.5,-35 Z" fill="#ebebeb"/><path d="M-7,-33.4 L-10.4,-14.6 M7,-33.4 L10.4,-14.6"/><path d="M-12,-13.8 Q0,-18.6 12,-13.8 L9.8,-5 Q0,-7.6 -9.8,-5 Z"/><path d="M-9.8,-5 L-10,22 M9.8,-5 L10,22"/><path d="M-12,-13.8 L-12.4,25 M12,-13.8 L12.4,25" stroke-width="0.7"/><path d="M-10,22 Q0,24 10,22 L11.4,28.6 Q0,31 -11.4,28.6 Z"/><path d="M-11.4,28.6 L-9.6,34.4 M11.4,28.6 L9.6,34.4" stroke-width="0.7"/><path d="M-13.2,-8.6 L-16,-10.2 L-13.4,-6.4 M13.2,-8.6 L16,-10.2 L13.4,-6.4"/><path d="M-13.4,2 L-13.4,14 M13.4,2 L13.4,14" stroke="#a0a0a0" stroke-width="1.1"/><path d="M-9.5,-34.2 Q0,-36 9.5,-34.2" stroke-width="0.7"/><path d="M-1.4,-33.4 h2.8" stroke="#5e5e5e" stroke-width="1.5"/></g>
<g transform="translate(958,520.5) rotate(90) scale(0.97,1)" fill="none" stroke="#ababab" stroke-width="0.8" stroke-linejoin="round" stroke-linecap="round"><path d="M-8.5,-35 Q-12.8,-34 -13.2,-27 L-13.6,26 Q-13.4,33.6 -8.5,35 L8.5,35 Q13.4,33.6 13.6,26 L13.2,-27 Q12.8,-34 8.5,-35 Z" fill="#ebebeb"/><path d="M-7,-33.4 L-10.4,-14.6 M7,-33.4 L10.4,-14.6"/><path d="M-12,-13.8 Q0,-18.6 12,-13.8 L9.8,-5 Q0,-7.6 -9.8,-5 Z"/><path d="M-9.8,-5 L-10,22 M9.8,-5 L10,22"/><path d="M-12,-13.8 L-12.4,25 M12,-13.8 L12.4,25" stroke-width="0.7"/><path d="M-10,22 Q0,24 10,22 L11.4,28.6 Q0,31 -11.4,28.6 Z"/><path d="M-11.4,28.6 L-9.6,34.4 M11.4,28.6 L9.6,34.4" stroke-width="0.7"/><path d="M-13.2,-8.6 L-16,-10.2 L-13.4,-6.4 M13.2,-8.6 L16,-10.2 L13.4,-6.4"/><path d="M-13.4,2 L-13.4,14 M13.4,2 L13.4,14" stroke="#a0a0a0" stroke-width="1.1"/><path d="M-9.5,-34.2 Q0,-36 9.5,-34.2" stroke-width="0.7"/><path d="M-1.4,-33.4 h2.8" stroke="#5e5e5e" stroke-width="1.5"/></g>
<g transform="translate(958,564.5) rotate(90) scale(0.97,1)" fill="none" stroke="#ababab" stroke-width="0.8" stroke-linejoin="round" stroke-linecap="round"><path d="M-8.5,-35 Q-12.8,-34 -13.2,-27 L-13.6,26 Q-13.4,33.6 -8.5,35 L8.5,35 Q13.4,33.6 13.6,26 L13.2,-27 Q12.8,-34 8.5,-35 Z" fill="#ebebeb"/><path d="M-7,-33.4 L-10.4,-14.6 M7,-33.4 L10.4,-14.6"/><path d="M-12,-13.8 Q0,-18.6 12,-13.8 L9.8,-5 Q0,-7.6 -9.8,-5 Z"/><path d="M-9.8,-5 L-10,22 M9.8,-5 L10,22"/><path d="M-12,-13.8 L-12.4,25 M12,-13.8 L12.4,25" stroke-width="0.7"/><path d="M-10,22 Q0,24 10,22 L11.4,28.6 Q0,31 -11.4,28.6 Z"/><path d="M-11.4,28.6 L-9.6,34.4 M11.4,28.6 L9.6,34.4" stroke-width="0.7"/><path d="M-13.2,-8.6 L-16,-10.2 L-13.4,-6.4 M13.2,-8.6 L16,-10.2 L13.4,-6.4"/><path d="M-13.4,2 L-13.4,14 M13.4,2 L13.4,14" stroke="#a0a0a0" stroke-width="1.1"/><path d="M-9.5,-34.2 Q0,-36 9.5,-34.2" stroke-width="0.7"/><path d="M-1.4,-33.4 h2.8" stroke="#5e5e5e" stroke-width="1.5"/></g>
<rect x="1001" y="238" width="4" height="351.6" fill="#d6d6d6" stroke="none" stroke-width="1" shape-rendering="crispEdges"/>
<line x1="1005" y1="322" x2="1005" y2="589.6" stroke="#000000" stroke-width="0.9" shape-rendering="crispEdges"/>
<rect x="916" y="238" width="4" height="6" fill="#e8e8e8"/>
<rect x="919" y="238" width="82" height="5" fill="#fff"/>
<rect x="919" y="243" width="82" height="1" fill="#000"/>
<rect x="920" y="238" width="10.6" height="5" rx="2.5" fill="#c6c6c6" stroke="#909090" stroke-width="0.6"/>
<ellipse cx="925" cy="326.6" rx="5.2" ry="2.9" fill="#d0d0d0" stroke="#111" stroke-width="0.7"/>
<line x1="920.5" y1="326.6" x2="929.5" y2="326.6" stroke="#000000" stroke-width="1" shape-rendering="crispEdges"/>
<ellipse cx="925" cy="413" rx="5.2" ry="2.9" fill="#d0d0d0" stroke="#111" stroke-width="0.7"/>
<line x1="920.5" y1="413" x2="929.5" y2="413" stroke="#000000" stroke-width="1" shape-rendering="crispEdges"/>
<ellipse cx="925" cy="499.6" rx="5.2" ry="2.9" fill="#d0d0d0" stroke="#111" stroke-width="0.7"/>
<line x1="920.5" y1="499.6" x2="929.5" y2="499.6" stroke="#000000" stroke-width="1" shape-rendering="crispEdges"/>
<line x1="915.6" y1="233.5" x2="1004.3" y2="233.5" stroke="#000000" stroke-width="1" shape-rendering="crispEdges"/>
<path d="M1004.3,233.5 C1013,233.5 1018.5,239 1018.5,248.5" fill="none" stroke="#a0a0a0" stroke-width="0.7"/>
<line x1="1018.5" y1="248" x2="1018.5" y2="322" stroke="#000000" stroke-width="1" shape-rendering="crispEdges"/>
<rect x="1004.6" y="237.6" width="6.2" height="84.4" fill="#d0d0d0" stroke="#000000" stroke-width="0.9" shape-rendering="crispEdges"/>
<line x1="1005.4" y1="237.6" x2="1005.4" y2="322" stroke="#000" stroke-width="1.6" shape-rendering="crispEdges"/>
<line x1="915.6" y1="238" x2="1004.6" y2="238" stroke="#000000" stroke-width="1" shape-rendering="crispEdges"/>
<line x1="915.6" y1="146.3" x2="1019.6" y2="146.3" stroke="#000000" stroke-width="0.9" shape-rendering="crispEdges"/>
<path d="M1019.6,146.3 C1068,146.3 1105.4,176 1105.4,224" fill="none" stroke="#999" stroke-width="0.6"/>
<line x1="1105.5" y1="233" x2="1105.5" y2="319" stroke="#000000" stroke-width="1" shape-rendering="crispEdges"/>
<path d="M915.6,189 L1041.3,174.6 C1062,174 1078,184 1084,205 L1100,321.3" fill="none" stroke="#a8a8a8" stroke-width="0.6" stroke-dasharray="5 3"/>
<path d="M915.6,189 L1004.3,208.3 C1022,213 1031,222 1032.4,240 L1032.6,252 L1017.6,321.3" fill="none" stroke="#a8a8a8" stroke-width="0.6" stroke-dasharray="5 3"/>
<line x1="1004.3" y1="322.5" x2="1105.6" y2="322.5" stroke="#000000" stroke-width="1" stroke-dasharray="6 1.5" shape-rendering="crispEdges"/>
<rect x="1011.6" y="532.4" width="10" height="10" fill="#e8e8e8" stroke="#000000" stroke-width="1" shape-rendering="crispEdges"/>
<rect x="1011.6" y="542.4" width="10" height="10" fill="#e8e8e8" stroke="#000000" stroke-width="1" shape-rendering="crispEdges"/>
<line x1="1105.5" y1="322" x2="1105.5" y2="589" stroke="#000000" stroke-width="1" stroke-dasharray="6 1.5" shape-rendering="crispEdges"/>
<line x1="1105.6" y1="369" x2="1190.4" y2="369" stroke="#000000" stroke-width="1" stroke-dasharray="6 1.5" shape-rendering="crispEdges"/>
<line x1="1105.6" y1="413.4" x2="1190.4" y2="413.4" stroke="#000000" stroke-width="1" stroke-dasharray="6 1.5" shape-rendering="crispEdges"/>
<line x1="1105.6" y1="456.6" x2="1190.4" y2="456.6" stroke="#000000" stroke-width="1" stroke-dasharray="6 1.5" shape-rendering="crispEdges"/>
<line x1="1105.6" y1="499.6" x2="1190.4" y2="499.6" stroke="#000000" stroke-width="1" stroke-dasharray="6 1.5" shape-rendering="crispEdges"/>
<line x1="1105.6" y1="542.6" x2="1190.4" y2="542.6" stroke="#000000" stroke-width="1" stroke-dasharray="6 1.5" shape-rendering="crispEdges"/>
<g transform="translate(1150,346.6) rotate(90) scale(0.97,1)" fill="none" stroke="#ababab" stroke-width="0.8" stroke-linejoin="round" stroke-linecap="round"><path d="M-8.5,-35 Q-12.8,-34 -13.2,-27 L-13.6,26 Q-13.4,33.6 -8.5,35 L8.5,35 Q13.4,33.6 13.6,26 L13.2,-27 Q12.8,-34 8.5,-35 Z" fill="#ebebeb"/><path d="M-7,-33.4 L-10.4,-14.6 M7,-33.4 L10.4,-14.6"/><path d="M-12,-13.8 Q0,-18.6 12,-13.8 L9.8,-5 Q0,-7.6 -9.8,-5 Z"/><path d="M-9.8,-5 L-10,22 M9.8,-5 L10,22"/><path d="M-12,-13.8 L-12.4,25 M12,-13.8 L12.4,25" stroke-width="0.7"/><path d="M-10,22 Q0,24 10,22 L11.4,28.6 Q0,31 -11.4,28.6 Z"/><path d="M-11.4,28.6 L-9.6,34.4 M11.4,28.6 L9.6,34.4" stroke-width="0.7"/><path d="M-13.2,-8.6 L-16,-10.2 L-13.4,-6.4 M13.2,-8.6 L16,-10.2 L13.4,-6.4"/><path d="M-13.4,2 L-13.4,14 M13.4,2 L13.4,14" stroke="#a0a0a0" stroke-width="1.1"/><path d="M-9.5,-34.2 Q0,-36 9.5,-34.2" stroke-width="0.7"/><path d="M-1.4,-33.4 h2.8" stroke="#5e5e5e" stroke-width="1.5"/></g>
<g transform="translate(1150,389.8) rotate(90) scale(0.97,1)" fill="none" stroke="#ababab" stroke-width="0.8" stroke-linejoin="round" stroke-linecap="round"><path d="M-8.5,-35 Q-12.8,-34 -13.2,-27 L-13.6,26 Q-13.4,33.6 -8.5,35 L8.5,35 Q13.4,33.6 13.6,26 L13.2,-27 Q12.8,-34 8.5,-35 Z" fill="#ebebeb"/><path d="M-7,-33.4 L-10.4,-14.6 M7,-33.4 L10.4,-14.6"/><path d="M-12,-13.8 Q0,-18.6 12,-13.8 L9.8,-5 Q0,-7.6 -9.8,-5 Z"/><path d="M-9.8,-5 L-10,22 M9.8,-5 L10,22"/><path d="M-12,-13.8 L-12.4,25 M12,-13.8 L12.4,25" stroke-width="0.7"/><path d="M-10,22 Q0,24 10,22 L11.4,28.6 Q0,31 -11.4,28.6 Z"/><path d="M-11.4,28.6 L-9.6,34.4 M11.4,28.6 L9.6,34.4" stroke-width="0.7"/><path d="M-13.2,-8.6 L-16,-10.2 L-13.4,-6.4 M13.2,-8.6 L16,-10.2 L13.4,-6.4"/><path d="M-13.4,2 L-13.4,14 M13.4,2 L13.4,14" stroke="#a0a0a0" stroke-width="1.1"/><path d="M-9.5,-34.2 Q0,-36 9.5,-34.2" stroke-width="0.7"/><path d="M-1.4,-33.4 h2.8" stroke="#5e5e5e" stroke-width="1.5"/></g>
<g transform="translate(1150,432.4) rotate(90) scale(0.97,1)" fill="none" stroke="#ababab" stroke-width="0.8" stroke-linejoin="round" stroke-linecap="round"><path d="M-8.5,-35 Q-12.8,-34 -13.2,-27 L-13.6,26 Q-13.4,33.6 -8.5,35 L8.5,35 Q13.4,33.6 13.6,26 L13.2,-27 Q12.8,-34 8.5,-35 Z" fill="#ebebeb"/><path d="M-7,-33.4 L-10.4,-14.6 M7,-33.4 L10.4,-14.6"/><path d="M-12,-13.8 Q0,-18.6 12,-13.8 L9.8,-5 Q0,-7.6 -9.8,-5 Z"/><path d="M-9.8,-5 L-10,22 M9.8,-5 L10,22"/><path d="M-12,-13.8 L-12.4,25 M12,-13.8 L12.4,25" stroke-width="0.7"/><path d="M-10,22 Q0,24 10,22 L11.4,28.6 Q0,31 -11.4,28.6 Z"/><path d="M-11.4,28.6 L-9.6,34.4 M11.4,28.6 L9.6,34.4" stroke-width="0.7"/><path d="M-13.2,-8.6 L-16,-10.2 L-13.4,-6.4 M13.2,-8.6 L16,-10.2 L13.4,-6.4"/><path d="M-13.4,2 L-13.4,14 M13.4,2 L13.4,14" stroke="#a0a0a0" stroke-width="1.1"/><path d="M-9.5,-34.2 Q0,-36 9.5,-34.2" stroke-width="0.7"/><path d="M-1.4,-33.4 h2.8" stroke="#5e5e5e" stroke-width="1.5"/></g>
<g transform="translate(1150,476.2) rotate(90) scale(0.97,1)" fill="none" stroke="#ababab" stroke-width="0.8" stroke-linejoin="round" stroke-linecap="round"><path d="M-8.5,-35 Q-12.8,-34 -13.2,-27 L-13.6,26 Q-13.4,33.6 -8.5,35 L8.5,35 Q13.4,33.6 13.6,26 L13.2,-27 Q12.8,-34 8.5,-35 Z" fill="#ebebeb"/><path d="M-7,-33.4 L-10.4,-14.6 M7,-33.4 L10.4,-14.6"/><path d="M-12,-13.8 Q0,-18.6 12,-13.8 L9.8,-5 Q0,-7.6 -9.8,-5 Z"/><path d="M-9.8,-5 L-10,22 M9.8,-5 L10,22"/><path d="M-12,-13.8 L-12.4,25 M12,-13.8 L12.4,25" stroke-width="0.7"/><path d="M-10,22 Q0,24 10,22 L11.4,28.6 Q0,31 -11.4,28.6 Z"/><path d="M-11.4,28.6 L-9.6,34.4 M11.4,28.6 L9.6,34.4" stroke-width="0.7"/><path d="M-13.2,-8.6 L-16,-10.2 L-13.4,-6.4 M13.2,-8.6 L16,-10.2 L13.4,-6.4"/><path d="M-13.4,2 L-13.4,14 M13.4,2 L13.4,14" stroke="#a0a0a0" stroke-width="1.1"/><path d="M-9.5,-34.2 Q0,-36 9.5,-34.2" stroke-width="0.7"/><path d="M-1.4,-33.4 h2.8" stroke="#5e5e5e" stroke-width="1.5"/></g>
<g transform="translate(1150,519.2) rotate(90) scale(0.97,1)" fill="none" stroke="#ababab" stroke-width="0.8" stroke-linejoin="round" stroke-linecap="round"><path d="M-8.5,-35 Q-12.8,-34 -13.2,-27 L-13.6,26 Q-13.4,33.6 -8.5,35 L8.5,35 Q13.4,33.6 13.6,26 L13.2,-27 Q12.8,-34 8.5,-35 Z" fill="#ebebeb"/><path d="M-7,-33.4 L-10.4,-14.6 M7,-33.4 L10.4,-14.6"/><path d="M-12,-13.8 Q0,-18.6 12,-13.8 L9.8,-5 Q0,-7.6 -9.8,-5 Z"/><path d="M-9.8,-5 L-10,22 M9.8,-5 L10,22"/><path d="M-12,-13.8 L-12.4,25 M12,-13.8 L12.4,25" stroke-width="0.7"/><path d="M-10,22 Q0,24 10,22 L11.4,28.6 Q0,31 -11.4,28.6 Z"/><path d="M-11.4,28.6 L-9.6,34.4 M11.4,28.6 L9.6,34.4" stroke-width="0.7"/><path d="M-13.2,-8.6 L-16,-10.2 L-13.4,-6.4 M13.2,-8.6 L16,-10.2 L13.4,-6.4"/><path d="M-13.4,2 L-13.4,14 M13.4,2 L13.4,14" stroke="#a0a0a0" stroke-width="1.1"/><path d="M-9.5,-34.2 Q0,-36 9.5,-34.2" stroke-width="0.7"/><path d="M-1.4,-33.4 h2.8" stroke="#5e5e5e" stroke-width="1.5"/></g>
<g transform="translate(1150,563.2) rotate(90) scale(0.97,1)" fill="none" stroke="#ababab" stroke-width="0.8" stroke-linejoin="round" stroke-linecap="round"><path d="M-8.5,-35 Q-12.8,-34 -13.2,-27 L-13.6,26 Q-13.4,33.6 -8.5,35 L8.5,35 Q13.4,33.6 13.6,26 L13.2,-27 Q12.8,-34 8.5,-35 Z" fill="#ebebeb"/><path d="M-7,-33.4 L-10.4,-14.6 M7,-33.4 L10.4,-14.6"/><path d="M-12,-13.8 Q0,-18.6 12,-13.8 L9.8,-5 Q0,-7.6 -9.8,-5 Z"/><path d="M-9.8,-5 L-10,22 M9.8,-5 L10,22"/><path d="M-12,-13.8 L-12.4,25 M12,-13.8 L12.4,25" stroke-width="0.7"/><path d="M-10,22 Q0,24 10,22 L11.4,28.6 Q0,31 -11.4,28.6 Z"/><path d="M-11.4,28.6 L-9.6,34.4 M11.4,28.6 L9.6,34.4" stroke-width="0.7"/><path d="M-13.2,-8.6 L-16,-10.2 L-13.4,-6.4 M13.2,-8.6 L16,-10.2 L13.4,-6.4"/><path d="M-13.4,2 L-13.4,14 M13.4,2 L13.4,14" stroke="#a0a0a0" stroke-width="1.1"/><path d="M-9.5,-34.2 Q0,-36 9.5,-34.2" stroke-width="0.7"/><path d="M-1.4,-33.4 h2.8" stroke="#5e5e5e" stroke-width="1.5"/></g>
<ellipse cx="1115.6" cy="413" rx="5.2" ry="2.9" fill="#d0d0d0" stroke="#111" stroke-width="0.7"/>
<line x1="1111" y1="413" x2="1120" y2="413" stroke="#000000" stroke-width="1" shape-rendering="crispEdges"/>
<ellipse cx="1115.6" cy="499.6" rx="5.2" ry="2.9" fill="#d0d0d0" stroke="#111" stroke-width="0.7"/>
<line x1="1111" y1="499.6" x2="1120" y2="499.6" stroke="#000000" stroke-width="1" shape-rendering="crispEdges"/>
<rect x="242.6" y="455.8" width="127" height="2.8" fill="#f2f2f2" stroke="#000000" stroke-width="1" shape-rendering="crispEdges"/>
<rect x="414.4" y="455.8" width="128" height="2.8" fill="#f2f2f2" stroke="#000000" stroke-width="1" shape-rendering="crispEdges"/>
<rect x="587.6" y="455.8" width="126.8" height="2.8" fill="#f2f2f2" stroke="#000000" stroke-width="1" shape-rendering="crispEdges"/>
<rect x="865.6" y="240.4" width="4" height="128" fill="#f2f2f2" stroke="#000000" stroke-width="1" shape-rendering="crispEdges"/>
<rect x="865.6" y="413.6" width="4" height="126.8" fill="#f2f2f2" stroke="#000000" stroke-width="1" shape-rendering="crispEdges"/>
<rect x="1058.6" y="392" width="3.4" height="128" fill="#f2f2f2" stroke="#000000" stroke-width="1" shape-rendering="crispEdges"/>
<polygon points="327,327.53 385,301.87 386.4,304.87 328.4,330.53" fill="#ececec" stroke="#aaa" stroke-width="0.5"/>
<polygon points="532,236.32 590,210.65 591.4,213.65 533.4,239.32" fill="#ececec" stroke="#aaa" stroke-width="0.5"/>
<g opacity="0.999">
<rect x="144.8" y="522.6" width="17.2" height="23.6" rx="2" fill="#fff" opacity="0.4"/>
<text transform="translate(145.9,531.2) scale(0.7,1)" fill="#ad302d" stroke="#ad302d" stroke-width="0.3" letter-spacing="1.9"><tspan font-size="10.6">B</tspan><tspan font-size="9.1">YT</tspan></text>
<text transform="translate(154.06,544.6) scale(0.69,1)" font-size="13.8" fill="#ad302d" stroke="#ad302d" stroke-width="0.22" letter-spacing="1.9" text-anchor="middle">20</text>
<rect x="189.8" y="522.6" width="17.2" height="23.6" rx="2" fill="#fff" opacity="0.4"/>
<text transform="translate(190.9,531.2) scale(0.7,1)" fill="#ad302d" stroke="#ad302d" stroke-width="0.3" letter-spacing="1.9"><tspan font-size="10.6">B</tspan><tspan font-size="9.1">YT</tspan></text>
<text transform="translate(199.56,544.6) scale(0.69,1)" font-size="13.8" fill="#ad302d" stroke="#ad302d" stroke-width="0.22" letter-spacing="1.9" text-anchor="middle"><tspan letter-spacing="0.4">1</tspan>0</text>
<rect x="232.9" y="522.6" width="17.2" height="23.6" rx="2" fill="#fff" opacity="0.4"/>
<text transform="translate(234,531.2) scale(0.7,1)" fill="#ad302d" stroke="#ad302d" stroke-width="0.3" letter-spacing="1.9"><tspan font-size="10.6">B</tspan><tspan font-size="9.1">YT</tspan></text>
<text transform="translate(242.16,544.6) scale(0.69,1)" font-size="13.8" fill="#ad302d" stroke="#ad302d" stroke-width="0.22" letter-spacing="1.9" text-anchor="middle">09</text>
<rect x="275.4" y="522.6" width="17.2" height="23.6" rx="2" fill="#fff" opacity="0.4"/>
<text transform="translate(276.5,531.2) scale(0.7,1)" fill="#ad302d" stroke="#ad302d" stroke-width="0.3" letter-spacing="1.9"><tspan font-size="10.6">B</tspan><tspan font-size="9.1">YT</tspan></text>
<text transform="translate(285.16,544.6) scale(0.69,1)" font-size="13.8" fill="#ad302d" stroke="#ad302d" stroke-width="0.22" letter-spacing="1.9" text-anchor="middle"><tspan letter-spacing="0.4">1</tspan>8</text>
<rect x="318.4" y="522.6" width="17.2" height="23.6" rx="2" fill="#fff" opacity="0.4"/>
<text transform="translate(319.5,531.2) scale(0.7,1)" fill="#ad302d" stroke="#ad302d" stroke-width="0.3" letter-spacing="1.9"><tspan font-size="10.6">B</tspan><tspan font-size="9.1">YT</tspan></text>
<text transform="translate(328.16,544.6) scale(0.69,1)" font-size="13.8" fill="#ad302d" stroke="#ad302d" stroke-width="0.22" letter-spacing="1.9" text-anchor="middle"><tspan letter-spacing="0.4">1</tspan>9</text>
<rect x="361.8" y="522.6" width="17.2" height="23.6" rx="2" fill="#fff" opacity="0.4"/>
<text transform="translate(362.9,531.2) scale(0.7,1)" fill="#ad302d" stroke="#ad302d" stroke-width="0.3" letter-spacing="1.9"><tspan font-size="10.6">B</tspan><tspan font-size="9.1">YT</tspan></text>
<text transform="translate(371.06,544.6) scale(0.69,1)" font-size="13.8" fill="#ad302d" stroke="#ad302d" stroke-width="0.22" letter-spacing="1.9" text-anchor="middle">28</text>
<rect x="405.4" y="522.6" width="17.2" height="23.6" rx="2" fill="#fff" opacity="0.4"/>
<text transform="translate(406.5,531.2) scale(0.7,1)" fill="#ad302d" stroke="#ad302d" stroke-width="0.3" letter-spacing="1.9"><tspan font-size="10.6">B</tspan><tspan font-size="9.1">YT</tspan></text>
<text transform="translate(414.66,544.6) scale(0.69,1)" font-size="13.8" fill="#ad302d" stroke="#ad302d" stroke-width="0.22" letter-spacing="1.9" text-anchor="middle">27</text>
<rect x="447.4" y="523.8" width="17.2" height="23.6" rx="2" fill="#fff" opacity="0.4"/>
<text transform="translate(448.5,532.4) scale(0.7,1)" fill="#ad302d" stroke="#ad302d" stroke-width="0.3" letter-spacing="1.9"><tspan font-size="10.6">B</tspan><tspan font-size="9.1">YT</tspan></text>
<text transform="translate(456.66,545.8) scale(0.69,1)" font-size="13.8" fill="#ad302d" stroke="#ad302d" stroke-width="0.22" letter-spacing="1.9" text-anchor="middle">03</text>
<rect x="491" y="522" width="17.2" height="23.6" rx="2" fill="#fff" opacity="0.4"/>
<text transform="translate(492.1,530.6) scale(0.7,1)" fill="#ad302d" stroke="#ad302d" stroke-width="0.3" letter-spacing="1.9"><tspan font-size="10.6">B</tspan><tspan font-size="9.1">YT</tspan></text>
<text transform="translate(500.26,544) scale(0.69,1)" font-size="13.8" fill="#ad302d" stroke="#ad302d" stroke-width="0.22" letter-spacing="1.9" text-anchor="middle">08</text>
<rect x="534.4" y="522.6" width="17.2" height="23.6" rx="2" fill="#fff" opacity="0.4"/>
<text transform="translate(535.5,531.2) scale(0.7,1)" fill="#ad302d" stroke="#ad302d" stroke-width="0.3" letter-spacing="1.9"><tspan font-size="10.6">B</tspan><tspan font-size="9.1">YT</tspan></text>
<text transform="translate(543.66,544.6) scale(0.69,1)" font-size="13.8" fill="#ad302d" stroke="#ad302d" stroke-width="0.22" letter-spacing="1.9" text-anchor="middle">29</text>
<rect x="577" y="522.6" width="17.2" height="23.6" rx="2" fill="#fff" opacity="0.4"/>
<text transform="translate(578.1,531.2) scale(0.7,1)" fill="#ad302d" stroke="#ad302d" stroke-width="0.3" letter-spacing="1.9"><tspan font-size="10.6">B</tspan><tspan font-size="9.1">YT</tspan></text>
<text transform="translate(586.26,544.6) scale(0.69,1)" font-size="13.8" fill="#ad302d" stroke="#ad302d" stroke-width="0.22" letter-spacing="1.9" text-anchor="middle">30</text>
<rect x="620.8" y="522.6" width="17.2" height="23.6" rx="2" fill="#fff" opacity="0.4"/>
<text transform="translate(621.9,531.2) scale(0.7,1)" fill="#ad302d" stroke="#ad302d" stroke-width="0.3" letter-spacing="1.9"><tspan font-size="10.6">B</tspan><tspan font-size="9.1">YT</tspan></text>
<text transform="translate(630.06,544.6) scale(0.69,1)" font-size="13.8" fill="#ad302d" stroke="#ad302d" stroke-width="0.22" letter-spacing="1.9" text-anchor="middle">31</text>
<rect x="663.4" y="522.6" width="17.2" height="23.6" rx="2" fill="#fff" opacity="0.4"/>
<text transform="translate(664.5,531.2) scale(0.7,1)" fill="#ad302d" stroke="#ad302d" stroke-width="0.3" letter-spacing="1.9"><tspan font-size="10.6">B</tspan><tspan font-size="9.1">YT</tspan></text>
<text transform="translate(672.66,544.6) scale(0.69,1)" font-size="13.8" fill="#ad302d" stroke="#ad302d" stroke-width="0.22" letter-spacing="1.9" text-anchor="middle">32</text>
<rect x="707.4" y="522.6" width="17.2" height="23.6" rx="2" fill="#fff" opacity="0.4"/>
<text transform="translate(708.5,531.2) scale(0.7,1)" fill="#ad302d" stroke="#ad302d" stroke-width="0.3" letter-spacing="1.9"><tspan font-size="10.6">B</tspan><tspan font-size="9.1">YT</tspan></text>
<text transform="translate(716.66,544.6) scale(0.69,1)" font-size="13.8" fill="#ad302d" stroke="#ad302d" stroke-width="0.22" letter-spacing="1.9" text-anchor="middle">34</text>
<rect x="161.1" y="505.9" width="13.4" height="13.6" fill="#fbfbfb"/>
<text transform="translate(168.22,516.7) scale(0.74,1)" font-size="8.8" fill="#384c66" stroke="#384c66" stroke-width="0.25" letter-spacing="0.6" text-anchor="middle">01</text>
<rect x="201.3" y="505.9" width="13.4" height="13.6" fill="#fbfbfb"/>
<text transform="translate(208.42,516.7) scale(0.74,1)" font-size="8.8" fill="#384c66" stroke="#384c66" stroke-width="0.25" letter-spacing="0.6" text-anchor="middle">02</text>
<rect x="247.1" y="505.9" width="13.4" height="13.6" fill="#fbfbfb"/>
<text transform="translate(254.22,516.7) scale(0.74,1)" font-size="8.8" fill="#384c66" stroke="#384c66" stroke-width="0.25" letter-spacing="0.6" text-anchor="middle">03</text>
<rect x="286.9" y="505.9" width="13.4" height="13.6" fill="#fbfbfb"/>
<text transform="translate(294.02,516.7) scale(0.74,1)" font-size="8.8" fill="#384c66" stroke="#384c66" stroke-width="0.25" letter-spacing="0.6" text-anchor="middle">04</text>
<rect x="332.1" y="505.9" width="13.4" height="13.6" fill="#fbfbfb"/>
<text transform="translate(339.22,516.7) scale(0.74,1)" font-size="8.8" fill="#384c66" stroke="#384c66" stroke-width="0.25" letter-spacing="0.6" text-anchor="middle">05</text>
<rect x="374.1" y="505.9" width="13.4" height="13.6" fill="#fbfbfb"/>
<text transform="translate(381.22,516.7) scale(0.74,1)" font-size="8.8" fill="#384c66" stroke="#384c66" stroke-width="0.25" letter-spacing="0.6" text-anchor="middle">06</text>
<rect x="419.6" y="505.9" width="13.4" height="13.6" fill="#fbfbfb"/>
<text transform="translate(426.72,516.7) scale(0.74,1)" font-size="8.8" fill="#384c66" stroke="#384c66" stroke-width="0.25" letter-spacing="0.6" text-anchor="middle">07</text>
<rect x="459.6" y="505.9" width="13.4" height="13.6" fill="#fbfbfb"/>
<text transform="translate(466.72,516.7) scale(0.74,1)" font-size="8.8" fill="#384c66" stroke="#384c66" stroke-width="0.25" letter-spacing="0.6" text-anchor="middle">08</text>
<rect x="506.4" y="505.9" width="13.4" height="13.6" fill="#fbfbfb"/>
<text transform="translate(513.52,516.7) scale(0.74,1)" font-size="8.8" fill="#384c66" stroke="#384c66" stroke-width="0.25" letter-spacing="0.6" text-anchor="middle">09</text>
<rect x="546.4" y="505.9" width="13.4" height="13.6" fill="#fbfbfb"/>
<text transform="translate(553.52,516.7) scale(0.74,1)" font-size="8.8" fill="#384c66" stroke="#384c66" stroke-width="0.25" letter-spacing="0.6" text-anchor="middle">10</text>
<rect x="592.1" y="505.9" width="13.4" height="13.6" fill="#fbfbfb"/>
<text transform="translate(599.22,516.7) scale(0.74,1)" font-size="8.8" fill="#384c66" stroke="#384c66" stroke-width="0.25" letter-spacing="0.6" text-anchor="middle">11</text>
<rect x="632.6" y="505.9" width="13.4" height="13.6" fill="#fbfbfb"/>
<text transform="translate(639.72,516.7) scale(0.74,1)" font-size="8.8" fill="#384c66" stroke="#384c66" stroke-width="0.25" letter-spacing="0.6" text-anchor="middle">12</text>
<rect x="679.1" y="505.9" width="13.4" height="13.6" fill="#fbfbfb"/>
<text transform="translate(686.22,516.7) scale(0.74,1)" font-size="8.8" fill="#384c66" stroke="#384c66" stroke-width="0.25" letter-spacing="0.6" text-anchor="middle">13</text>
<rect x="720.9" y="505.9" width="13.4" height="13.6" fill="#fbfbfb"/>
<text transform="translate(728.02,516.7) scale(0.74,1)" font-size="8.8" fill="#384c66" stroke="#384c66" stroke-width="0.25" letter-spacing="0.6" text-anchor="middle">14</text>
<text transform="translate(140,617.1) scale(0.66,1)" fill="#a3562a" font-weight="700" letter-spacing="2.1"><tspan font-size="10.6">B</tspan><tspan font-size="9.1">YT</tspan></text>
<text transform="translate(167.46,617.1) scale(0.69,1)" font-size="13.8" fill="#9c3b31" stroke="#9c3b31" stroke-width="0.22" letter-spacing="1.9" text-anchor="middle">20</text>
<text transform="translate(183.6,617.1) scale(0.66,1)" fill="#a3562a" font-weight="700" letter-spacing="2.1"><tspan font-size="10.6">B</tspan><tspan font-size="9.1">YT</tspan></text>
<text transform="translate(209.96,617.1) scale(0.69,1)" font-size="13.8" fill="#9c3b31" stroke="#9c3b31" stroke-width="0.22" letter-spacing="1.9" text-anchor="middle"><tspan letter-spacing="0.4">1</tspan>0</text>
<text transform="translate(224,617.1) scale(0.66,1)" fill="#a3562a" font-weight="700" letter-spacing="2.1"><tspan font-size="10.6">B</tspan><tspan font-size="9.1">YT</tspan></text>
<text transform="translate(251.66,617.1) scale(0.69,1)" font-size="13.8" fill="#9c3b31" stroke="#9c3b31" stroke-width="0.22" letter-spacing="1.9" text-anchor="middle">09</text>
<text transform="translate(270.4,617.1) scale(0.66,1)" fill="#a3562a" font-weight="700" letter-spacing="2.1"><tspan font-size="10.6">B</tspan><tspan font-size="9.1">YT</tspan></text>
<text transform="translate(297.96,617.1) scale(0.69,1)" font-size="13.8" fill="#9c3b31" stroke="#9c3b31" stroke-width="0.22" letter-spacing="1.9" text-anchor="middle"><tspan letter-spacing="0.4">1</tspan>8</text>
<text transform="translate(314.6,617.1) scale(0.66,1)" fill="#a3562a" font-weight="700" letter-spacing="2.1"><tspan font-size="10.6">B</tspan><tspan font-size="9.1">YT</tspan></text>
<text transform="translate(341.96,617.1) scale(0.69,1)" font-size="13.8" fill="#9c3b31" stroke="#9c3b31" stroke-width="0.22" letter-spacing="1.9" text-anchor="middle"><tspan letter-spacing="0.4">1</tspan>9</text>
<text transform="translate(355.6,617.1) scale(0.66,1)" fill="#a3562a" font-weight="700" letter-spacing="2.1"><tspan font-size="10.6">B</tspan><tspan font-size="9.1">YT</tspan></text>
<text transform="translate(382.66,617.1) scale(0.69,1)" font-size="13.8" fill="#9c3b31" stroke="#9c3b31" stroke-width="0.22" letter-spacing="1.9" text-anchor="middle">28</text>
<text transform="translate(399.6,617.1) scale(0.66,1)" fill="#a3562a" font-weight="700" letter-spacing="2.1"><tspan font-size="10.6">B</tspan><tspan font-size="9.1">YT</tspan></text>
<text transform="translate(426.66,617.1) scale(0.69,1)" font-size="13.8" fill="#9c3b31" stroke="#9c3b31" stroke-width="0.22" letter-spacing="1.9" text-anchor="middle">27</text>
<text transform="translate(439.6,617.1) scale(0.66,1)" fill="#a3562a" font-weight="700" letter-spacing="2.1"><tspan font-size="10.6">B</tspan><tspan font-size="9.1">YT</tspan></text>
<text transform="translate(466.66,617.1) scale(0.69,1)" font-size="13.8" fill="#9c3b31" stroke="#9c3b31" stroke-width="0.22" letter-spacing="1.9" text-anchor="middle">03</text>
<text transform="translate(484.4,617.1) scale(0.66,1)" fill="#a3562a" font-weight="700" letter-spacing="2.1"><tspan font-size="10.6">B</tspan><tspan font-size="9.1">YT</tspan></text>
<text transform="translate(511.66,617.1) scale(0.69,1)" font-size="13.8" fill="#9c3b31" stroke="#9c3b31" stroke-width="0.22" letter-spacing="1.9" text-anchor="middle">08</text>
<text transform="translate(525.6,617.1) scale(0.66,1)" fill="#a3562a" font-weight="700" letter-spacing="2.1"><tspan font-size="10.6">B</tspan><tspan font-size="9.1">YT</tspan></text>
<text transform="translate(553.66,617.1) scale(0.69,1)" font-size="13.8" fill="#9c3b31" stroke="#9c3b31" stroke-width="0.22" letter-spacing="1.9" text-anchor="middle">29</text>
<text transform="translate(570.4,617.1) scale(0.66,1)" fill="#a3562a" font-weight="700" letter-spacing="2.1"><tspan font-size="10.6">B</tspan><tspan font-size="9.1">YT</tspan></text>
<text transform="translate(599.06,617.1) scale(0.69,1)" font-size="13.8" fill="#9c3b31" stroke="#9c3b31" stroke-width="0.22" letter-spacing="1.9" text-anchor="middle">30</text>
<text transform="translate(613.6,617.1) scale(0.66,1)" fill="#a3562a" font-weight="700" letter-spacing="2.1"><tspan font-size="10.6">B</tspan><tspan font-size="9.1">YT</tspan></text>
<text transform="translate(641.66,617.1) scale(0.69,1)" font-size="13.8" fill="#9c3b31" stroke="#9c3b31" stroke-width="0.22" letter-spacing="1.9" text-anchor="middle">31</text>
<text transform="translate(655.6,617.1) scale(0.66,1)" fill="#a3562a" font-weight="700" letter-spacing="2.1"><tspan font-size="10.6">B</tspan><tspan font-size="9.1">YT</tspan></text>
<text transform="translate(682.66,617.1) scale(0.69,1)" font-size="13.8" fill="#9c3b31" stroke="#9c3b31" stroke-width="0.22" letter-spacing="1.9" text-anchor="middle">32</text>
<text transform="translate(700.4,617.1) scale(0.66,1)" fill="#a3562a" font-weight="700" letter-spacing="2.1"><tspan font-size="10.6">B</tspan><tspan font-size="9.1">YT</tspan></text>
<text transform="translate(727.66,617.1) scale(0.69,1)" font-size="13.8" fill="#9c3b31" stroke="#9c3b31" stroke-width="0.22" letter-spacing="1.9" text-anchor="middle">34</text>
<text transform="translate(761.6,617.1) scale(0.66,1)" fill="#a3562a" font-weight="700" letter-spacing="2.1"><tspan font-size="10.6">B</tspan><tspan font-size="9.1">YT</tspan></text>
<text transform="translate(787.66,617.1) scale(0.69,1)" font-size="13.8" fill="#9c3b31" stroke="#9c3b31" stroke-width="0.22" letter-spacing="1.9" text-anchor="middle">21</text>
<text transform="translate(168.88,604) scale(0.7,1)" font-size="9" font-weight="700" fill="#2a4d6e" letter-spacing="0.5" text-anchor="middle">A</text>
<text transform="translate(213.48,604) scale(0.7,1)" font-size="9" font-weight="700" fill="#2a4d6e" letter-spacing="0.5" text-anchor="middle">B</text>
<text transform="translate(256.48,604) scale(0.7,1)" font-size="9" font-weight="700" fill="#2a4d6e" letter-spacing="0.5" text-anchor="middle">C</text>
<text transform="translate(298.18,604) scale(0.7,1)" font-size="9" font-weight="700" fill="#2a4d6e" letter-spacing="0.5" text-anchor="middle">D</text>
<text transform="translate(342.38,604) scale(0.7,1)" font-size="9" font-weight="700" fill="#2a4d6e" letter-spacing="0.5" text-anchor="middle">E</text>
<text transform="translate(385.78,604) scale(0.7,1)" font-size="9" font-weight="700" fill="#2a4d6e" letter-spacing="0.5" text-anchor="middle">F</text>
<text transform="translate(429.48,604) scale(0.7,1)" font-size="9" font-weight="700" fill="#2a4d6e" letter-spacing="0.5" text-anchor="middle">G</text>
<text transform="translate(470.88,604) scale(0.7,1)" font-size="9" font-weight="700" fill="#2a4d6e" letter-spacing="0.5" text-anchor="middle">H</text>
<text transform="translate(514.17,604) scale(0.7,1)" font-size="9" font-weight="700" fill="#2a4d6e" letter-spacing="0.5" text-anchor="middle">CH</text>
<text transform="translate(555.17,604) scale(0.7,1)" font-size="9" font-weight="700" fill="#2a4d6e" letter-spacing="0.5" text-anchor="middle">I</text>
<text transform="translate(601.67,604) scale(0.7,1)" font-size="9" font-weight="700" fill="#2a4d6e" letter-spacing="0.5" text-anchor="middle">J</text>
<text transform="translate(644.88,604) scale(0.7,1)" font-size="9" font-weight="700" fill="#2a4d6e" letter-spacing="0.5" text-anchor="middle">K</text>
<text transform="translate(686.67,604) scale(0.7,1)" font-size="9" font-weight="700" fill="#2a4d6e" letter-spacing="0.5" text-anchor="middle">L</text>
<text transform="translate(736.17,604) scale(0.7,1)" font-size="9" font-weight="700" fill="#2a4d6e" letter-spacing="0.5" text-anchor="middle">M</text>
<text transform="translate(809.67,604) scale(0.7,1)" font-size="9" font-weight="700" fill="#2a4d6e" letter-spacing="0.5" text-anchor="middle">N</text>
<rect x="406.1" y="356.4" width="17.2" height="24.2" rx="2" fill="#fff" opacity="0.4"/>
<text transform="translate(407.2,365) scale(0.7,1)" fill="#ad302d" stroke="#ad302d" stroke-width="0.3" letter-spacing="1.9"><tspan font-size="10.6">B</tspan><tspan font-size="9.1">YT</tspan></text>
<text transform="translate(415.36,379) scale(0.69,1)" font-size="13.8" fill="#ad302d" stroke="#ad302d" stroke-width="0.22" letter-spacing="1.9" text-anchor="middle">23</text>
<rect x="446.7" y="356.4" width="17.2" height="24.2" rx="2" fill="#fff" opacity="0.4"/>
<text transform="translate(447.8,365) scale(0.7,1)" fill="#ad302d" stroke="#ad302d" stroke-width="0.3" letter-spacing="1.9"><tspan font-size="10.6">B</tspan><tspan font-size="9.1">YT</tspan></text>
<text transform="translate(456.46,379) scale(0.69,1)" font-size="13.8" fill="#ad302d" stroke="#ad302d" stroke-width="0.22" letter-spacing="1.9" text-anchor="middle"><tspan letter-spacing="0.4">1</tspan>2</text>
<rect x="487" y="355.4" width="23" height="24.2" rx="2" fill="#fff" opacity="0.4"/>
<text transform="translate(491,364) scale(0.7,1)" fill="#ad302d" stroke="#ad302d" stroke-width="0.3" letter-spacing="1.9"><tspan font-size="10.6">B</tspan><tspan font-size="9.1">YT</tspan></text>
<text transform="translate(499.02,378) scale(0.69,1)" font-size="13.8" fill="#ad302d" stroke="#ad302d" stroke-width="0.22" letter-spacing="1.5" text-anchor="middle">20A</text>
<rect x="532.9" y="357.4" width="17.2" height="23.2" rx="2" fill="#fff" opacity="0.4"/>
<text transform="translate(534,366) scale(0.7,1)" fill="#ad302d" stroke="#ad302d" stroke-width="0.3" letter-spacing="1.9"><tspan font-size="10.6">B</tspan><tspan font-size="9.1">YT</tspan></text>
<text transform="translate(542.66,379) scale(0.69,1)" font-size="13.8" fill="#ad302d" stroke="#ad302d" stroke-width="0.22" letter-spacing="1.9" text-anchor="middle"><tspan letter-spacing="0.4">1</tspan>7</text>
<rect x="578.9" y="356.4" width="17.2" height="23.6" rx="2" fill="#fff" opacity="0.4"/>
<text transform="translate(580,365) scale(0.7,1)" fill="#ad302d" stroke="#ad302d" stroke-width="0.3" letter-spacing="1.9"><tspan font-size="10.6">B</tspan><tspan font-size="9.1">YT</tspan></text>
<text transform="translate(588.16,378.4) scale(0.69,1)" font-size="13.8" fill="#ad302d" stroke="#ad302d" stroke-width="0.22" letter-spacing="1.9" text-anchor="middle">38</text>
<rect x="621.4" y="358.4" width="17.2" height="23.6" rx="2" fill="#fff" opacity="0.4"/>
<text transform="translate(622.5,367) scale(0.7,1)" fill="#ad302d" stroke="#ad302d" stroke-width="0.3" letter-spacing="1.9"><tspan font-size="10.6">B</tspan><tspan font-size="9.1">YT</tspan></text>
<text transform="translate(630.66,380.4) scale(0.69,1)" font-size="13.8" fill="#ad302d" stroke="#ad302d" stroke-width="0.22" letter-spacing="1.9" text-anchor="middle">36</text>
<rect x="663.7" y="357.4" width="17.2" height="23.8" rx="2" fill="#fff" opacity="0.4"/>
<text transform="translate(664.8,366) scale(0.7,1)" fill="#ad302d" stroke="#ad302d" stroke-width="0.3" letter-spacing="1.9"><tspan font-size="10.6">B</tspan><tspan font-size="9.1">YT</tspan></text>
<text transform="translate(672.96,379.6) scale(0.69,1)" font-size="13.8" fill="#ad302d" stroke="#ad302d" stroke-width="0.22" letter-spacing="1.9" text-anchor="middle">37</text>
<rect x="705.4" y="357.4" width="17.2" height="24.2" rx="2" fill="#fff" opacity="0.4"/>
<text transform="translate(706.5,366) scale(0.7,1)" fill="#ad302d" stroke="#ad302d" stroke-width="0.3" letter-spacing="1.9"><tspan font-size="10.6">B</tspan><tspan font-size="9.1">YT</tspan></text>
<text transform="translate(714.66,380) scale(0.69,1)" font-size="13.8" fill="#ad302d" stroke="#ad302d" stroke-width="0.22" letter-spacing="1.9" text-anchor="middle">35</text>
<rect x="420.9" y="393.4" width="13.4" height="13.6" fill="#fbfbfb"/>
<text transform="translate(428.02,404.2) scale(0.74,1)" font-size="8.8" fill="#384c66" stroke="#384c66" stroke-width="0.25" letter-spacing="0.6" text-anchor="middle">15</text>
<rect x="460.9" y="393.4" width="13.4" height="13.6" fill="#fbfbfb"/>
<text transform="translate(468.02,404.2) scale(0.74,1)" font-size="8.8" fill="#384c66" stroke="#384c66" stroke-width="0.25" letter-spacing="0.6" text-anchor="middle">16</text>
<rect x="505.1" y="393.4" width="13.4" height="13.6" fill="#fbfbfb"/>
<text transform="translate(512.22,404.2) scale(0.74,1)" font-size="8.8" fill="#384c66" stroke="#384c66" stroke-width="0.25" letter-spacing="0.6" text-anchor="middle">17</text>
<rect x="547.1" y="393.4" width="13.4" height="13.6" fill="#fbfbfb"/>
<text transform="translate(554.22,404.2) scale(0.74,1)" font-size="8.8" fill="#384c66" stroke="#384c66" stroke-width="0.25" letter-spacing="0.6" text-anchor="middle">18</text>
<rect x="594.6" y="393.4" width="13.4" height="13.6" fill="#fbfbfb"/>
<text transform="translate(601.72,404.2) scale(0.74,1)" font-size="8.8" fill="#384c66" stroke="#384c66" stroke-width="0.25" letter-spacing="0.6" text-anchor="middle">19</text>
<rect x="632.7" y="393.4" width="13.4" height="13.6" fill="#fbfbfb"/>
<text transform="translate(639.82,404.2) scale(0.74,1)" font-size="8.8" fill="#384c66" stroke="#384c66" stroke-width="0.25" letter-spacing="0.6" text-anchor="middle">20</text>
<rect x="678.4" y="393.4" width="13.4" height="13.6" fill="#fbfbfb"/>
<text transform="translate(685.52,404.2) scale(0.74,1)" font-size="8.8" fill="#384c66" stroke="#384c66" stroke-width="0.25" letter-spacing="0.6" text-anchor="middle">21</text>
<rect x="717.1" y="393.4" width="13.4" height="13.6" fill="#fbfbfb"/>
<text transform="translate(724.22,404.2) scale(0.74,1)" font-size="8.8" fill="#384c66" stroke="#384c66" stroke-width="0.25" letter-spacing="0.6" text-anchor="middle">22</text>
<text transform="translate(269,392) scale(0.66,1)" fill="#a3562a" font-weight="700" letter-spacing="2.1"><tspan font-size="10.6">B</tspan><tspan font-size="9.1">YT</tspan></text>
<text transform="translate(298.66,392) scale(0.69,1)" font-size="13.8" fill="#9c3b31" stroke="#9c3b31" stroke-width="0.22" letter-spacing="1.9" text-anchor="middle">04</text>
<text transform="translate(301.68,379) scale(0.7,1)" font-size="9" font-weight="700" fill="#2a4d6e" letter-spacing="0.5" text-anchor="middle">U</text>
<text transform="translate(316.5,378.4) scale(0.66,1)" fill="#a3562a" font-weight="700" letter-spacing="2.1"><tspan font-size="10.6">B</tspan><tspan font-size="9.1">YT</tspan></text>
<text transform="translate(324.66,392) scale(0.69,1)" font-size="13.8" fill="#9c3b31" stroke="#9c3b31" stroke-width="0.22" letter-spacing="1.9" text-anchor="middle">01</text>
<text transform="translate(332.18,366) scale(0.7,1)" font-size="9" font-weight="700" fill="#2a4d6e" letter-spacing="0.5" text-anchor="middle">V</text>
<text transform="translate(357.8,354.4) scale(0.66,1)" fill="#a3562a" font-weight="700" letter-spacing="2.1"><tspan font-size="10.6">B</tspan><tspan font-size="9.1">YT</tspan></text>
<text transform="translate(364.16,369) scale(0.69,1)" font-size="13.8" fill="#9c3b31" stroke="#9c3b31" stroke-width="0.22" letter-spacing="1.9" text-anchor="middle">23</text>
<text transform="translate(380.48,346) scale(0.7,1)" font-size="9" font-weight="700" fill="#2a4d6e" letter-spacing="0.5" text-anchor="middle">W</text>
<text transform="translate(348.2,387) scale(0.66,1)" fill="#a3562a" font-weight="700" letter-spacing="2.1"><tspan font-size="10.6">B</tspan><tspan font-size="9.1">YT</tspan></text>
<text transform="translate(354.66,401) scale(0.69,1)" font-size="13.8" fill="#9c3b31" stroke="#9c3b31" stroke-width="0.22" letter-spacing="1.9" text-anchor="middle"><tspan letter-spacing="0.4">1</tspan>5</text>
<text transform="translate(379.68,385.6) scale(0.7,1)" font-size="9" font-weight="700" fill="#2a4d6e" letter-spacing="0.5" text-anchor="middle">X</text>
<text transform="translate(452.4,310.9) scale(0.66,1)" fill="#a3562a" font-weight="700" letter-spacing="2.1"><tspan font-size="10.6">B</tspan><tspan font-size="9.1">YT</tspan></text>
<text transform="translate(481.36,310.9) scale(0.69,1)" font-size="13.8" fill="#9c3b31" stroke="#9c3b31" stroke-width="0.22" letter-spacing="1.9" text-anchor="middle"><tspan letter-spacing="0.4">1</tspan>2</text>
<text transform="translate(484.48,320.6) scale(0.7,1)" font-size="9" font-weight="700" fill="#2a4d6e" letter-spacing="0.5" text-anchor="middle">Y</text>
<text transform="translate(497.2,294.4) scale(0.66,1)" fill="#a3562a" font-weight="700" letter-spacing="2.1"><tspan font-size="10.6">B</tspan><tspan font-size="9.1">YT</tspan></text>
<text transform="translate(505.22,308) scale(0.69,1)" font-size="13.8" fill="#9c3b31" stroke="#9c3b31" stroke-width="0.22" letter-spacing="1.5" text-anchor="middle">20A</text>
<text transform="translate(514.88,321.4) scale(0.7,1)" font-size="9" font-weight="700" fill="#2a4d6e" letter-spacing="0.5" text-anchor="middle">Z</text>
<text transform="translate(531.8,295) scale(0.66,1)" fill="#a3562a" font-weight="700" letter-spacing="2.1"><tspan font-size="10.6">B</tspan><tspan font-size="9.1">YT</tspan></text>
<text transform="translate(540.46,309.6) scale(0.69,1)" font-size="13.8" fill="#9c3b31" stroke="#9c3b31" stroke-width="0.22" letter-spacing="1.9" text-anchor="middle"><tspan letter-spacing="0.4">1</tspan>7</text>
<text transform="translate(574.97,320.8) scale(0.7,1)" font-size="9" font-weight="700" fill="#2a4d6e" letter-spacing="0.5" text-anchor="middle">A1</text>
<text transform="translate(601.8,287) scale(0.66,1)" fill="#a3562a" font-weight="700" letter-spacing="2.1"><tspan font-size="10.6">B</tspan><tspan font-size="9.1">YT</tspan></text>
<text transform="translate(609.96,301) scale(0.69,1)" font-size="13.8" fill="#9c3b31" stroke="#9c3b31" stroke-width="0.22" letter-spacing="1.9" text-anchor="middle">38</text>
<text transform="translate(626.17,320.6) scale(0.7,1)" font-size="9" font-weight="700" fill="#2a4d6e" letter-spacing="0.5" text-anchor="middle">B1</text>
<text transform="translate(642,287) scale(0.66,1)" fill="#a3562a" font-weight="700" letter-spacing="2.1"><tspan font-size="10.6">B</tspan><tspan font-size="9.1">YT</tspan></text>
<text transform="translate(650.16,301) scale(0.69,1)" font-size="13.8" fill="#9c3b31" stroke="#9c3b31" stroke-width="0.22" letter-spacing="1.9" text-anchor="middle">36</text>
<text transform="translate(657.97,320.6) scale(0.7,1)" font-size="9" font-weight="700" fill="#2a4d6e" letter-spacing="0.5" text-anchor="middle">C1</text>
<text transform="translate(671,281.6) scale(0.66,1)" fill="#a3562a" font-weight="700" letter-spacing="2.1"><tspan font-size="10.6">B</tspan><tspan font-size="9.1">YT</tspan></text>
<text transform="translate(679.16,296) scale(0.69,1)" font-size="13.8" fill="#9c3b31" stroke="#9c3b31" stroke-width="0.22" letter-spacing="1.9" text-anchor="middle">37</text>
<text transform="translate(683.77,315.6) scale(0.7,1)" font-size="9" font-weight="700" fill="#2a4d6e" letter-spacing="0.5" text-anchor="middle">D1</text>
<text transform="translate(705.8,295) scale(0.66,1)" fill="#a3562a" font-weight="700" letter-spacing="2.1"><tspan font-size="10.6">B</tspan><tspan font-size="9.1">YT</tspan></text>
<text transform="translate(713.96,309) scale(0.69,1)" font-size="13.8" fill="#9c3b31" stroke="#9c3b31" stroke-width="0.22" letter-spacing="1.9" text-anchor="middle">35</text>
<text transform="translate(725.47,319.8) scale(0.7,1)" font-size="9" font-weight="700" fill="#2a4d6e" letter-spacing="0.5" text-anchor="middle">E1</text>
<text transform="translate(546.2,276.7) scale(0.66,1)" fill="#a3562a" font-weight="700" letter-spacing="2.1"><tspan font-size="10.6">B</tspan><tspan font-size="9.1">YT</tspan></text>
<text transform="translate(571.56,276.7) scale(0.69,1)" font-size="13.8" fill="#9c3b31" stroke="#9c3b31" stroke-width="0.22" letter-spacing="1.9" text-anchor="middle"><tspan letter-spacing="0.4">1</tspan>1</text>
<text transform="translate(575.17,260) scale(0.7,1)" font-size="9" font-weight="700" fill="#2a4d6e" letter-spacing="0.5" text-anchor="middle">J1</text>
<text transform="translate(594.4,255) scale(0.66,1)" fill="#a3562a" font-weight="700" letter-spacing="2.1"><tspan font-size="10.6">B</tspan><tspan font-size="9.1">YT</tspan></text>
<text transform="translate(621.66,255) scale(0.69,1)" font-size="13.8" fill="#9c3b31" stroke="#9c3b31" stroke-width="0.22" letter-spacing="1.9" text-anchor="middle">22</text>
<text transform="translate(626.88,236.4) scale(0.7,1)" font-size="9" font-weight="700" fill="#2a4d6e" letter-spacing="0.5" text-anchor="middle">I1</text>
<text transform="translate(642.5,247) scale(0.66,1)" fill="#a3562a" font-weight="700" letter-spacing="2.1"><tspan font-size="10.6">B</tspan><tspan font-size="9.1">YT</tspan></text>
<text transform="translate(650.66,261) scale(0.69,1)" font-size="13.8" fill="#9c3b31" stroke="#9c3b31" stroke-width="0.22" letter-spacing="1.9" text-anchor="middle">02</text>
<text transform="translate(656.38,233) scale(0.7,1)" font-size="9" font-weight="700" fill="#2a4d6e" letter-spacing="0.5" text-anchor="middle">CH1</text>
<text transform="translate(670.7,236) scale(0.66,1)" fill="#a3562a" font-weight="700" letter-spacing="2.1"><tspan font-size="10.6">B</tspan><tspan font-size="9.1">YT</tspan></text>
<text transform="translate(678.72,249) scale(0.69,1)" font-size="13.8" fill="#9c3b31" stroke="#9c3b31" stroke-width="0.22" letter-spacing="1.5" text-anchor="middle">02A</text>
<text transform="translate(683.17,224) scale(0.7,1)" font-size="9" font-weight="700" fill="#2a4d6e" letter-spacing="0.5" text-anchor="middle">H1</text>
<text transform="translate(699.2,212) scale(0.66,1)" fill="#a3562a" font-weight="700" letter-spacing="2.1"><tspan font-size="10.6">B</tspan><tspan font-size="9.1">YT</tspan></text>
<text transform="translate(707.36,226) scale(0.69,1)" font-size="13.8" fill="#9c3b31" stroke="#9c3b31" stroke-width="0.22" letter-spacing="1.9" text-anchor="middle">26</text>
<text transform="translate(727.17,234.4) scale(0.7,1)" font-size="9" font-weight="700" fill="#2a4d6e" letter-spacing="0.5" text-anchor="middle">G1</text>
<text transform="translate(701.5,258) scale(0.66,1)" fill="#a3562a" font-weight="700" letter-spacing="2.1"><tspan font-size="10.6">B</tspan><tspan font-size="9.1">YT</tspan></text>
<text transform="translate(709.66,271.6) scale(0.69,1)" font-size="13.8" fill="#9c3b31" stroke="#9c3b31" stroke-width="0.22" letter-spacing="1.9" text-anchor="middle">24</text>
<text transform="translate(727.17,278.4) scale(0.7,1)" font-size="9" font-weight="700" fill="#2a4d6e" letter-spacing="0.5" text-anchor="middle">F1</text>
<rect x="758.9" y="208.6" width="35.6" height="13" rx="2" fill="#fff" opacity="0.4"/>
<text transform="translate(760.4,220) scale(0.7,1)" fill="#ad302d" stroke="#ad302d" stroke-width="0.3" letter-spacing="1.9"><tspan font-size="10.6">B</tspan><tspan font-size="9.1">YT</tspan></text>
<text transform="translate(787.66,220) scale(0.69,1)" font-size="13.8" fill="#ad302d" stroke="#ad302d" stroke-width="0.22" letter-spacing="1.9" text-anchor="middle">26</text>
<rect x="758.9" y="255.6" width="35.6" height="13" rx="2" fill="#fff" opacity="0.4"/>
<text transform="translate(760.4,267) scale(0.7,1)" fill="#ad302d" stroke="#ad302d" stroke-width="0.3" letter-spacing="1.9"><tspan font-size="10.6">B</tspan><tspan font-size="9.1">YT</tspan></text>
<text transform="translate(787.66,267) scale(0.69,1)" font-size="13.8" fill="#ad302d" stroke="#ad302d" stroke-width="0.22" letter-spacing="1.9" text-anchor="middle">24</text>
<rect x="755.5" y="297.6" width="43" height="13" rx="2" fill="#fff" opacity="0.4"/>
<text transform="translate(757,309) scale(0.7,1)" fill="#ad302d" stroke="#ad302d" stroke-width="0.3" letter-spacing="1.9"><tspan font-size="10.6">B</tspan><tspan font-size="9.1">YT</tspan></text>
<text transform="translate(787.42,309) scale(0.69,1)" font-size="13.8" fill="#ad302d" stroke="#ad302d" stroke-width="0.22" letter-spacing="1.5" text-anchor="middle">02A</text>
<rect x="759.5" y="342.6" width="34" height="13" rx="2" fill="#fff" opacity="0.4"/>
<text transform="translate(761,354) scale(0.7,1)" fill="#ad302d" stroke="#ad302d" stroke-width="0.3" letter-spacing="1.9"><tspan font-size="10.6">B</tspan><tspan font-size="9.1">YT</tspan></text>
<text transform="translate(787.96,354) scale(0.69,1)" font-size="13.8" fill="#ad302d" stroke="#ad302d" stroke-width="0.22" letter-spacing="1.9" text-anchor="middle"><tspan letter-spacing="0.4">1</tspan>5</text>
<rect x="759.5" y="380.6" width="35" height="13" rx="2" fill="#fff" opacity="0.4"/>
<text transform="translate(761,392) scale(0.7,1)" fill="#ad302d" stroke="#ad302d" stroke-width="0.3" letter-spacing="1.9"><tspan font-size="10.6">B</tspan><tspan font-size="9.1">YT</tspan></text>
<text transform="translate(787.66,392) scale(0.69,1)" font-size="13.8" fill="#ad302d" stroke="#ad302d" stroke-width="0.22" letter-spacing="1.9" text-anchor="middle">21</text>
<rect x="805.3" y="193.1" width="13.4" height="13.6" fill="#fbfbfb"/>
<text transform="translate(812.42,203.9) scale(0.74,1)" font-size="8.8" fill="#384c66" stroke="#384c66" stroke-width="0.25" letter-spacing="0.6" text-anchor="middle">27</text>
<rect x="805.3" y="243.9" width="13.4" height="13.6" fill="#fbfbfb"/>
<text transform="translate(812.42,254.7) scale(0.74,1)" font-size="8.8" fill="#384c66" stroke="#384c66" stroke-width="0.25" letter-spacing="0.6" text-anchor="middle">26</text>
<rect x="805.3" y="284.9" width="13.4" height="13.6" fill="#fbfbfb"/>
<text transform="translate(812.42,295.7) scale(0.74,1)" font-size="8.8" fill="#384c66" stroke="#384c66" stroke-width="0.25" letter-spacing="0.6" text-anchor="middle">25</text>
<rect x="805.3" y="329.9" width="13.4" height="13.6" fill="#fbfbfb"/>
<text transform="translate(812.42,340.7) scale(0.74,1)" font-size="8.8" fill="#384c66" stroke="#384c66" stroke-width="0.25" letter-spacing="0.6" text-anchor="middle">24</text>
<rect x="805.3" y="370.9" width="13.4" height="13.6" fill="#fbfbfb"/>
<text transform="translate(812.42,381.7) scale(0.74,1)" font-size="8.8" fill="#384c66" stroke="#384c66" stroke-width="0.25" letter-spacing="0.6" text-anchor="middle">23</text>
<rect x="924.1" y="256.6" width="35.7" height="13" rx="2" fill="#fff" opacity="0.4"/>
<text transform="translate(925.6,268) scale(0.7,1)" fill="#ad302d" stroke="#ad302d" stroke-width="0.3" letter-spacing="1.9"><tspan font-size="10.6">B</tspan><tspan font-size="9.1">YT</tspan></text>
<text transform="translate(952.96,268) scale(0.69,1)" font-size="13.8" fill="#ad302d" stroke="#ad302d" stroke-width="0.22" letter-spacing="1.9" text-anchor="middle">02</text>
<rect x="919.5" y="295.6" width="43" height="13" rx="2" fill="#fff" opacity="0.4"/>
<text transform="translate(921,307) scale(0.7,1)" fill="#ad302d" stroke="#ad302d" stroke-width="0.3" letter-spacing="1.9"><tspan font-size="10.6">B</tspan><tspan font-size="9.1">YT</tspan></text>
<text transform="translate(952.72,307) scale(0.69,1)" font-size="13.8" fill="#ad302d" stroke="#ad302d" stroke-width="0.22" letter-spacing="1.5" text-anchor="middle"><tspan letter-spacing="0.4">1</tspan>4A</text>
<rect x="922.5" y="339.6" width="37" height="13" rx="2" fill="#fff" opacity="0.4"/>
<text transform="translate(924,351) scale(0.7,1)" fill="#ad302d" stroke="#ad302d" stroke-width="0.3" letter-spacing="1.9"><tspan font-size="10.6">B</tspan><tspan font-size="9.1">YT</tspan></text>
<text transform="translate(952.66,351) scale(0.69,1)" font-size="13.8" fill="#ad302d" stroke="#ad302d" stroke-width="0.22" letter-spacing="1.9" text-anchor="middle">22</text>
<rect x="924.1" y="381.6" width="34.4" height="13" rx="2" fill="#fff" opacity="0.4"/>
<text transform="translate(925.6,393) scale(0.7,1)" fill="#ad302d" stroke="#ad302d" stroke-width="0.3" letter-spacing="1.9"><tspan font-size="10.6">B</tspan><tspan font-size="9.1">YT</tspan></text>
<text transform="translate(951.66,393) scale(0.69,1)" font-size="13.8" fill="#ad302d" stroke="#ad302d" stroke-width="0.22" letter-spacing="1.9" text-anchor="middle">01</text>
<rect x="924.1" y="426.6" width="34.4" height="13" rx="2" fill="#fff" opacity="0.4"/>
<text transform="translate(925.6,438) scale(0.7,1)" fill="#ad302d" stroke="#ad302d" stroke-width="0.3" letter-spacing="1.9"><tspan font-size="10.6">B</tspan><tspan font-size="9.1">YT</tspan></text>
<text transform="translate(952.96,438) scale(0.69,1)" font-size="13.8" fill="#ad302d" stroke="#ad302d" stroke-width="0.22" letter-spacing="1.9" text-anchor="middle"><tspan letter-spacing="0.4">1</tspan>1</text>
<rect x="922.5" y="469.6" width="37.6" height="13" rx="2" fill="#fff" opacity="0.4"/>
<text transform="translate(924,481) scale(0.7,1)" fill="#ad302d" stroke="#ad302d" stroke-width="0.3" letter-spacing="1.9"><tspan font-size="10.6">B</tspan><tspan font-size="9.1">YT</tspan></text>
<text transform="translate(953.26,481) scale(0.69,1)" font-size="13.8" fill="#ad302d" stroke="#ad302d" stroke-width="0.22" letter-spacing="1.9" text-anchor="middle">04</text>
<rect x="920.1" y="512.6" width="43.8" height="13" rx="2" fill="#fff" opacity="0.4"/>
<text transform="translate(921.6,524) scale(0.7,1)" fill="#ad302d" stroke="#ad302d" stroke-width="0.3" letter-spacing="1.9"><tspan font-size="10.6">B</tspan><tspan font-size="9.1">YT</tspan></text>
<text transform="translate(952.82,524) scale(0.69,1)" font-size="13.8" fill="#ad302d" stroke="#ad302d" stroke-width="0.22" letter-spacing="1.5" text-anchor="middle">23A</text>
<rect x="920.1" y="556.6" width="43.8" height="13" rx="2" fill="#fff" opacity="0.4"/>
<text transform="translate(921.6,568) scale(0.7,1)" fill="#ad302d" stroke="#ad302d" stroke-width="0.3" letter-spacing="1.9"><tspan font-size="10.6">B</tspan><tspan font-size="9.1">YT</tspan></text>
<text transform="translate(952.82,568) scale(0.69,1)" font-size="13.8" fill="#ad302d" stroke="#ad302d" stroke-width="0.22" letter-spacing="1.5" text-anchor="middle">05A</text>
<rect x="917.9" y="244.9" width="13.4" height="13.6" fill="#fbfbfb"/>
<text transform="translate(925.02,255.7) scale(0.74,1)" font-size="8.8" fill="#384c66" stroke="#384c66" stroke-width="0.25" letter-spacing="0.6" text-anchor="middle">35</text>
<rect x="917.9" y="284.9" width="13.4" height="13.6" fill="#fbfbfb"/>
<text transform="translate(925.02,295.7) scale(0.74,1)" font-size="8.8" fill="#384c66" stroke="#384c66" stroke-width="0.25" letter-spacing="0.6" text-anchor="middle">34</text>
<rect x="917.9" y="328.9" width="13.4" height="13.6" fill="#fbfbfb"/>
<text transform="translate(925.02,339.7) scale(0.74,1)" font-size="8.8" fill="#384c66" stroke="#384c66" stroke-width="0.25" letter-spacing="0.6" text-anchor="middle">33</text>
<rect x="917.9" y="370.3" width="13.4" height="13.6" fill="#fbfbfb"/>
<text transform="translate(925.02,381.1) scale(0.74,1)" font-size="8.8" fill="#384c66" stroke="#384c66" stroke-width="0.25" letter-spacing="0.6" text-anchor="middle">32</text>
<rect x="917.9" y="415.9" width="13.4" height="13.6" fill="#fbfbfb"/>
<text transform="translate(925.02,426.7) scale(0.74,1)" font-size="8.8" fill="#384c66" stroke="#384c66" stroke-width="0.25" letter-spacing="0.6" text-anchor="middle">31</text>
<rect x="917.9" y="455.9" width="13.4" height="13.6" fill="#fbfbfb"/>
<text transform="translate(925.02,466.7) scale(0.74,1)" font-size="8.8" fill="#384c66" stroke="#384c66" stroke-width="0.25" letter-spacing="0.6" text-anchor="middle">30</text>
<rect x="917.9" y="501.9" width="13.4" height="13.6" fill="#fbfbfb"/>
<text transform="translate(925.02,512.7) scale(0.74,1)" font-size="8.8" fill="#384c66" stroke="#384c66" stroke-width="0.25" letter-spacing="0.6" text-anchor="middle">29</text>
<rect x="917.9" y="541.9" width="13.4" height="13.6" fill="#fbfbfb"/>
<text transform="translate(925.02,552.7) scale(0.74,1)" font-size="8.8" fill="#384c66" stroke="#384c66" stroke-width="0.25" letter-spacing="0.6" text-anchor="middle">28</text>
<rect x="1115.5" y="339.6" width="34" height="13" rx="2" fill="#fff" opacity="0.4"/>
<text transform="translate(1117,351) scale(0.7,1)" fill="#ad302d" stroke="#ad302d" stroke-width="0.3" letter-spacing="1.9"><tspan font-size="10.6">B</tspan><tspan font-size="9.1">YT</tspan></text>
<text transform="translate(1143.96,351) scale(0.69,1)" font-size="13.8" fill="#ad302d" stroke="#ad302d" stroke-width="0.22" letter-spacing="1.9" text-anchor="middle"><tspan letter-spacing="0.4">1</tspan>3</text>
<rect x="1114.9" y="383.6" width="36.2" height="13" rx="2" fill="#fff" opacity="0.4"/>
<text transform="translate(1116.4,395) scale(0.7,1)" fill="#ad302d" stroke="#ad302d" stroke-width="0.3" letter-spacing="1.9"><tspan font-size="10.6">B</tspan><tspan font-size="9.1">YT</tspan></text>
<text transform="translate(1144.26,395) scale(0.69,1)" font-size="13.8" fill="#ad302d" stroke="#ad302d" stroke-width="0.22" letter-spacing="1.9" text-anchor="middle">33</text>
<rect x="1112.9" y="426.6" width="40.2" height="13" rx="2" fill="#fff" opacity="0.4"/>
<text transform="translate(1114.4,438) scale(0.7,1)" fill="#ad302d" stroke="#ad302d" stroke-width="0.3" letter-spacing="1.9"><tspan font-size="10.6">B</tspan><tspan font-size="9.1">YT</tspan></text>
<text transform="translate(1143.32,438) scale(0.69,1)" font-size="13.8" fill="#ad302d" stroke="#ad302d" stroke-width="0.22" letter-spacing="1.5" text-anchor="middle"><tspan letter-spacing="0.4">1</tspan>1A</text>
<rect x="1105.5" y="470.6" width="36" height="13" rx="2" fill="#fff" opacity="0.4"/>
<text transform="translate(1107,482) scale(0.7,1)" fill="#ad302d" stroke="#ad302d" stroke-width="0.3" letter-spacing="1.9"><tspan font-size="10.6">B</tspan><tspan font-size="9.1">YT</tspan></text>
<text transform="translate(1135.96,482) scale(0.69,1)" font-size="13.8" fill="#ad302d" stroke="#ad302d" stroke-width="0.22" letter-spacing="1.9" text-anchor="middle"><tspan letter-spacing="0.4">1</tspan>4</text>
<rect x="1116.1" y="513.6" width="35.4" height="13" rx="2" fill="#fff" opacity="0.4"/>
<text transform="translate(1117.6,525) scale(0.7,1)" fill="#ad302d" stroke="#ad302d" stroke-width="0.3" letter-spacing="1.9"><tspan font-size="10.6">B</tspan><tspan font-size="9.1">YT</tspan></text>
<text transform="translate(1144.66,525) scale(0.69,1)" font-size="13.8" fill="#ad302d" stroke="#ad302d" stroke-width="0.22" letter-spacing="1.9" text-anchor="middle">06</text>
<rect x="1116.1" y="556.6" width="35.4" height="13" rx="2" fill="#fff" opacity="0.4"/>
<text transform="translate(1117.6,568) scale(0.7,1)" fill="#ad302d" stroke="#ad302d" stroke-width="0.3" letter-spacing="1.9"><tspan font-size="10.6">B</tspan><tspan font-size="9.1">YT</tspan></text>
<text transform="translate(1144.66,568) scale(0.69,1)" font-size="13.8" fill="#ad302d" stroke="#ad302d" stroke-width="0.22" letter-spacing="1.9" text-anchor="middle">05</text>
<rect x="1107.9" y="328.2" width="13.4" height="13.6" fill="#fbfbfb"/>
<text transform="translate(1115.02,339) scale(0.74,1)" font-size="8.8" fill="#384c66" stroke="#384c66" stroke-width="0.25" letter-spacing="0.6" text-anchor="middle">41</text>
<rect x="1107.9" y="370.8" width="13.4" height="13.6" fill="#fbfbfb"/>
<text transform="translate(1115.02,381.6) scale(0.74,1)" font-size="8.8" fill="#384c66" stroke="#384c66" stroke-width="0.25" letter-spacing="0.6" text-anchor="middle">40</text>
<rect x="1107.9" y="416.8" width="13.4" height="13.6" fill="#fbfbfb"/>
<text transform="translate(1115.02,427.6) scale(0.74,1)" font-size="8.8" fill="#384c66" stroke="#384c66" stroke-width="0.25" letter-spacing="0.6" text-anchor="middle">39</text>
<rect x="1107.9" y="457.4" width="13.4" height="13.6" fill="#fbfbfb"/>
<text transform="translate(1115.02,468.2) scale(0.74,1)" font-size="8.8" fill="#384c66" stroke="#384c66" stroke-width="0.25" letter-spacing="0.6" text-anchor="middle">38</text>
<rect x="1107.9" y="503.8" width="13.4" height="13.6" fill="#fbfbfb"/>
<text transform="translate(1115.02,514.6) scale(0.74,1)" font-size="8.8" fill="#384c66" stroke="#384c66" stroke-width="0.25" letter-spacing="0.6" text-anchor="middle">37</text>
<rect x="1107.9" y="542.8" width="13.4" height="13.6" fill="#fbfbfb"/>
<text transform="translate(1115.02,553.6) scale(0.74,1)" font-size="8.8" fill="#384c66" stroke="#384c66" stroke-width="0.25" letter-spacing="0.6" text-anchor="middle">36</text>
<text transform="translate(1213.2,343) scale(0.66,1)" fill="#a3562a" font-weight="700" letter-spacing="2.1"><tspan font-size="10.6">B</tspan><tspan font-size="9.1">YT</tspan></text>
<text transform="translate(1221.86,356) scale(0.69,1)" font-size="13.8" fill="#9c3b31" stroke="#9c3b31" stroke-width="0.22" letter-spacing="1.9" text-anchor="middle"><tspan letter-spacing="0.4">1</tspan>3</text>
<text transform="translate(1202.58,331.6) scale(0.7,1)" font-size="9" font-weight="700" fill="#2a4d6e" letter-spacing="0.5" text-anchor="middle">T</text>
<text transform="translate(1213.2,386) scale(0.66,1)" fill="#a3562a" font-weight="700" letter-spacing="2.1"><tspan font-size="10.6">B</tspan><tspan font-size="9.1">YT</tspan></text>
<text transform="translate(1221.36,399.6) scale(0.69,1)" font-size="13.8" fill="#9c3b31" stroke="#9c3b31" stroke-width="0.22" letter-spacing="1.9" text-anchor="middle">33</text>
<text transform="translate(1202.58,380) scale(0.7,1)" font-size="9" font-weight="700" fill="#2a4d6e" letter-spacing="0.5" text-anchor="middle">S</text>
<text transform="translate(1212.5,429) scale(0.66,1)" fill="#a3562a" font-weight="700" letter-spacing="2.1"><tspan font-size="10.6">B</tspan><tspan font-size="9.1">YT</tspan></text>
<text transform="translate(1221.02,442.4) scale(0.69,1)" font-size="13.8" fill="#9c3b31" stroke="#9c3b31" stroke-width="0.22" letter-spacing="1.5" text-anchor="middle"><tspan letter-spacing="0.4">1</tspan>1A</text>
<text transform="translate(1202.58,423) scale(0.7,1)" font-size="9" font-weight="700" fill="#2a4d6e" letter-spacing="0.5" text-anchor="middle">R</text>
<text transform="translate(1213.2,473) scale(0.66,1)" fill="#a3562a" font-weight="700" letter-spacing="2.1"><tspan font-size="10.6">B</tspan><tspan font-size="9.1">YT</tspan></text>
<text transform="translate(1221.86,486.6) scale(0.69,1)" font-size="13.8" fill="#9c3b31" stroke="#9c3b31" stroke-width="0.22" letter-spacing="1.9" text-anchor="middle"><tspan letter-spacing="0.4">1</tspan>4</text>
<text transform="translate(1202.58,467) scale(0.7,1)" font-size="9" font-weight="700" fill="#2a4d6e" letter-spacing="0.5" text-anchor="middle">Q</text>
<text transform="translate(1212.5,516) scale(0.66,1)" fill="#a3562a" font-weight="700" letter-spacing="2.1"><tspan font-size="10.6">B</tspan><tspan font-size="9.1">YT</tspan></text>
<text transform="translate(1220.66,529.6) scale(0.69,1)" font-size="13.8" fill="#9c3b31" stroke="#9c3b31" stroke-width="0.22" letter-spacing="1.9" text-anchor="middle">06</text>
<text transform="translate(1202.58,510) scale(0.7,1)" font-size="9" font-weight="700" fill="#2a4d6e" letter-spacing="0.5" text-anchor="middle">P</text>
<text transform="translate(1211.2,562) scale(0.66,1)" fill="#a3562a" font-weight="700" letter-spacing="2.1"><tspan font-size="10.6">B</tspan><tspan font-size="9.1">YT</tspan></text>
<text transform="translate(1219.36,575.6) scale(0.69,1)" font-size="13.8" fill="#9c3b31" stroke="#9c3b31" stroke-width="0.22" letter-spacing="1.9" text-anchor="middle">05</text>
<text transform="translate(1202.58,553) scale(0.7,1)" font-size="9" font-weight="700" fill="#2a4d6e" letter-spacing="0.5" text-anchor="middle">O</text>
</g>
<defs><filter id="fat2" x="-5%" y="-5%" width="110%" height="110%"><feMorphology operator="dilate" radius="2 1"/></filter><filter id="fat1" x="-5%" y="-5%" width="110%" height="110%"><feMorphology operator="dilate" radius="1 0"/></filter><clipPath id="one"><path d="M980,800 H1003.3 V895 H998 V834 H980 Z"/><rect x="1016.5" y="790" width="104" height="110"/></clipPath></defs>
<g filter="url(#fat2)"><g clip-path="url(#one)"><text transform="translate(0,886.6) scale(0.43,1)" font-size="113" fill="#3b3f44"><tspan x="2284.19" textLength="80.39" lengthAdjust="spacingAndGlyphs">1</tspan><tspan x="2359.07">.</tspan><tspan x="2400.23">P</tspan><tspan x="2485.12">P</tspan></text></g></g>
<g filter="url(#fat1)" fill="#3c3c3c" font-size="54">
<text transform="translate(1183.4,841.8) scale(0.575,1)" textLength="177.5" lengthAdjust="spacing">SVATÁ</text>
<text transform="translate(1146.6,889.8) scale(0.535,1)" textLength="274.5" lengthAdjust="spacing">BARBORA</text>
</g>
<polygon points="1148.07,803.97 1175.77,803.97 1175.77,829.99 1169.01,823.71 1169.01,809.65 1148.07,809.65" fill="#bf3f17" stroke="none" stroke-width="0.8"/>
<polygon points="1148.07,815.33 1164.52,815.33 1164.52,821.02 1160.04,821.02 1175.77,836.27 1175.77,841.77 1148.07,841.77 1148.07,835.97 1163.33,835.97 1148.07,822.51" fill="#bf3f17" stroke="none" stroke-width="0.8"/>
</svg>
</body></html>
